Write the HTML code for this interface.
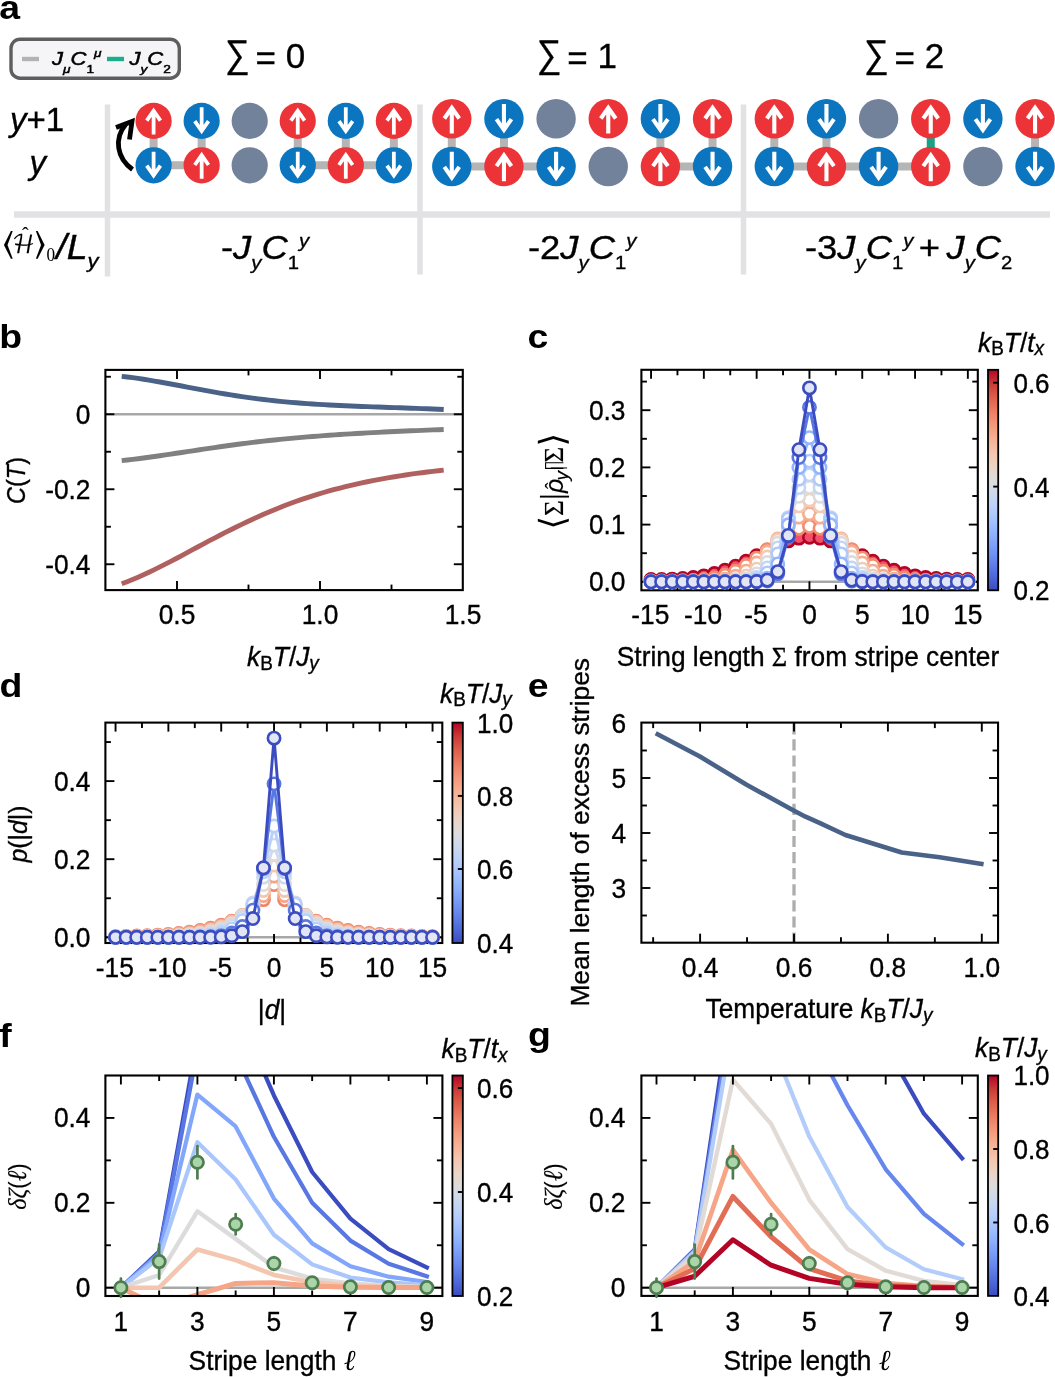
<!DOCTYPE html>
<html lang="en"><head><meta charset="utf-8"><title>Figure</title>
<style>
html,body{margin:0;padding:0;background:#fff;}
body{width:1055px;height:1377px;overflow:hidden;}
svg{display:block;font-family:"Liberation Sans", sans-serif;fill:#000;}
text{stroke:#000;stroke-width:0.35px;}
text.b{stroke:none;}
.b{font-weight:bold;}
.i{font-style:italic;}
</style></head><body>
<svg width="1055" height="1377" viewBox="0 0 1055 1377">
<rect width="1055" height="1377" fill="#fff"/>
<text transform="translate(-0.7 19.3) scale(1.1 1)" font-size="34" text-anchor="start" class="b">a</text>
<rect x="11" y="39.2" width="168.3" height="39" rx="9" ry="9" fill="#f5f5f7" stroke="#5e5e5e" stroke-width="3.4"/>
<line x1="22" y1="59" x2="39" y2="59" stroke="#b3b3b3" stroke-width="4.4" />
<line x1="107" y1="59" x2="124" y2="59" stroke="#1aae8f" stroke-width="4.4" />
<text transform="translate(52 65) scale(1.19 1)" font-size="18.5" text-anchor="start" style="stroke-width:0.5px"><tspan class="i">J</tspan><tspan font-style="italic" font-size="11.5" dy="7.5">μ</tspan><tspan class="i" dy="-7.5">C</tspan><tspan font-size="11.5" dy="7.5">1</tspan><tspan font-style="italic" font-size="11.5" dy="-15.5">μ</tspan></text>
<text transform="translate(129.5 65) scale(1.19 1)" font-size="18.5" text-anchor="start" style="stroke-width:0.5px"><tspan class="i">J</tspan><tspan font-style="italic" font-size="11.5" dy="7.5">y</tspan><tspan class="i" dy="-7.5">C</tspan><tspan font-size="11.5" dy="7.5">2</tspan></text>
<text transform="translate(225 67.2) scale(0.9 1)" font-size="38.5" text-anchor="start" >∑</text>
<text transform="translate(255.6 68)" font-size="35" text-anchor="start" ><tspan dy="2.2">=</tspan><tspan dy="-2.2"> 0</tspan></text>
<text transform="translate(536.75 67.2) scale(0.9 1)" font-size="38.5" text-anchor="start" >∑</text>
<text transform="translate(567.35 68)" font-size="35" text-anchor="start" ><tspan dy="2.2">=</tspan><tspan dy="-2.2"> 1</tspan></text>
<text transform="translate(864 67.2) scale(0.9 1)" font-size="38.5" text-anchor="start" >∑</text>
<text transform="translate(894.6 68)" font-size="35" text-anchor="start" ><tspan dy="2.2">=</tspan><tspan dy="-2.2"> 2</tspan></text>
<line x1="14" y1="214.4" x2="1050" y2="214.4" stroke="#e2e2e4" stroke-width="6.5" />
<line x1="107.5" y1="104.5" x2="107.5" y2="276.4" stroke="#e2e2e4" stroke-width="5.5" />
<line x1="420" y1="104.5" x2="420" y2="274.6" stroke="#e2e2e4" stroke-width="5.5" />
<line x1="743.5" y1="104.5" x2="743.5" y2="274.6" stroke="#e2e2e4" stroke-width="5.5" />
<text transform="translate(10 131)" font-size="33" text-anchor="start" ><tspan class="i">y</tspan>+1</text>
<text transform="translate(29.5 174)" font-size="33" text-anchor="start" ><tspan class="i">y</tspan></text>
<text transform="translate(1.4 253.4) scale(0.93 1)" font-size="25" text-anchor="start" style="stroke-width:0.05px"><tspan font-family='"DejaVu Math TeX Gyre", "DejaVu Serif", "DejaVu Sans", serif' font-size="33" dy="0.7">⟨</tspan><tspan font-family='"DejaVu Math TeX Gyre", "DejaVu Serif", "DejaVu Sans", serif' font-size="25" dy="-0.7" dx="-2.5">ℋ</tspan><tspan font-family='"DejaVu Math TeX Gyre", "DejaVu Serif", "DejaVu Sans", serif' font-size="33" dy="0.7" dx="-0.8">⟩</tspan><tspan font-family='"Liberation Serif", "DejaVu Serif", serif' font-size="18.5" dy="6.5" dx="-0.5">0</tspan></text>
<text transform="translate(25.4 241.5)" font-size="20" text-anchor="middle" font-family='"Liberation Serif", "DejaVu Serif", serif' style="stroke-width:0.1px">ˆ</text>
<text transform="translate(56.3 258.7) scale(1.07 1)" font-size="35" text-anchor="start" style="stroke-width:0.45px"><tspan class="i">/L</tspan><tspan font-style="italic" font-size="20.5" dy="9.5">y</tspan></text>
<text transform="translate(221 259) scale(1.07 1)" font-size="34" text-anchor="start" >-<tspan class="i">J</tspan><tspan font-style="italic" font-size="19" dy="10">y</tspan><tspan class="i" dy="-10">C</tspan><tspan font-size="19" dy="10">1</tspan><tspan font-style="italic" font-size="19" dy="-22.5">y</tspan></text>
<text transform="translate(528 259) scale(1.07 1)" font-size="34" text-anchor="start" >-2<tspan class="i">J</tspan><tspan font-style="italic" font-size="19" dy="10">y</tspan><tspan class="i" dy="-10">C</tspan><tspan font-size="19" dy="10">1</tspan><tspan font-style="italic" font-size="19" dy="-22.5">y</tspan></text>
<text transform="translate(805 259) scale(1.07 1)" font-size="34" text-anchor="start" >-3<tspan class="i">J</tspan><tspan font-style="italic" font-size="19" dy="10">y</tspan><tspan class="i" dy="-10">C</tspan><tspan font-size="19" dy="10">1</tspan><tspan font-style="italic" font-size="19" dy="-22.5">y</tspan><tspan dy="12.5" dx="5">+</tspan><tspan dx="6" class="i">J</tspan><tspan font-style="italic" font-size="19" dy="10">y</tspan><tspan class="i" dy="-10">C</tspan><tspan font-size="19" dy="10">2</tspan></text>
<line x1="153.6" y1="120.9" x2="153.6" y2="165.3" stroke="#b5b5b5" stroke-width="8" />
<line x1="201.65" y1="120.9" x2="201.65" y2="165.3" stroke="#b5b5b5" stroke-width="8" />
<line x1="297.75" y1="120.9" x2="297.75" y2="165.3" stroke="#b5b5b5" stroke-width="8" />
<line x1="345.8" y1="120.9" x2="345.8" y2="165.3" stroke="#b5b5b5" stroke-width="8" />
<line x1="393.85" y1="120.9" x2="393.85" y2="165.3" stroke="#b5b5b5" stroke-width="8" />
<line x1="153.6" y1="165.3" x2="201.65" y2="165.3" stroke="#b5b5b5" stroke-width="8" />
<line x1="297.75" y1="165.3" x2="345.8" y2="165.3" stroke="#b5b5b5" stroke-width="8" />
<line x1="345.8" y1="165.3" x2="393.85" y2="165.3" stroke="#b5b5b5" stroke-width="8" />
<circle cx="153.6" cy="120.9" r="18.1" fill="#ec3338"/>
<path d="M153.6 134.43V110.95M146.74 120.6L153.6 110.76L160.46 120.6" fill="none" stroke="#fff" stroke-width="3.78" stroke-linejoin="miter"/>
<circle cx="201.65" cy="120.9" r="18.1" fill="#0b75c0"/>
<path d="M201.65 107.37V130.85M194.79 121.2L201.65 131.04L208.51 121.2" fill="none" stroke="#fff" stroke-width="3.78" stroke-linejoin="miter"/>
<circle cx="249.7" cy="120.9" r="18.1" fill="#72829b"/>
<circle cx="297.75" cy="120.9" r="18.1" fill="#ec3338"/>
<path d="M297.75 134.43V110.95M290.89 120.6L297.75 110.76L304.61 120.6" fill="none" stroke="#fff" stroke-width="3.78" stroke-linejoin="miter"/>
<circle cx="345.8" cy="120.9" r="18.1" fill="#0b75c0"/>
<path d="M345.8 107.37V130.85M338.94 121.2L345.8 131.04L352.66 121.2" fill="none" stroke="#fff" stroke-width="3.78" stroke-linejoin="miter"/>
<circle cx="393.85" cy="120.9" r="18.1" fill="#ec3338"/>
<path d="M393.85 134.43V110.95M386.99 120.6L393.85 110.76L400.71 120.6" fill="none" stroke="#fff" stroke-width="3.78" stroke-linejoin="miter"/>
<circle cx="153.6" cy="165.3" r="18.1" fill="#0b75c0"/>
<path d="M153.6 151.77V175.25M146.74 165.6L153.6 175.44L160.46 165.6" fill="none" stroke="#fff" stroke-width="3.78" stroke-linejoin="miter"/>
<circle cx="201.65" cy="165.3" r="18.1" fill="#ec3338"/>
<path d="M201.65 178.83V155.35M194.79 165L201.65 155.16L208.51 165" fill="none" stroke="#fff" stroke-width="3.78" stroke-linejoin="miter"/>
<circle cx="249.7" cy="165.3" r="18.1" fill="#72829b"/>
<circle cx="297.75" cy="165.3" r="18.1" fill="#0b75c0"/>
<path d="M297.75 151.77V175.25M290.89 165.6L297.75 175.44L304.61 165.6" fill="none" stroke="#fff" stroke-width="3.78" stroke-linejoin="miter"/>
<circle cx="345.8" cy="165.3" r="18.1" fill="#ec3338"/>
<path d="M345.8 178.83V155.35M338.94 165L345.8 155.16L352.66 165" fill="none" stroke="#fff" stroke-width="3.78" stroke-linejoin="miter"/>
<circle cx="393.85" cy="165.3" r="18.1" fill="#0b75c0"/>
<path d="M393.85 151.77V175.25M386.99 165.6L393.85 175.44L400.71 165.6" fill="none" stroke="#fff" stroke-width="3.78" stroke-linejoin="miter"/>
<line x1="451.8" y1="118.8" x2="451.8" y2="166.5" stroke="#b5b5b5" stroke-width="8" />
<line x1="503.95" y1="118.8" x2="503.95" y2="166.5" stroke="#b5b5b5" stroke-width="8" />
<line x1="660.4" y1="118.8" x2="660.4" y2="166.5" stroke="#b5b5b5" stroke-width="8" />
<line x1="712.55" y1="118.8" x2="712.55" y2="166.5" stroke="#b5b5b5" stroke-width="8" />
<line x1="451.8" y1="166.5" x2="503.95" y2="166.5" stroke="#b5b5b5" stroke-width="8" />
<line x1="503.95" y1="166.5" x2="556.1" y2="166.5" stroke="#b5b5b5" stroke-width="8" />
<line x1="660.4" y1="166.5" x2="712.55" y2="166.5" stroke="#b5b5b5" stroke-width="8" />
<circle cx="451.8" cy="118.8" r="19.7" fill="#ec3338"/>
<path d="M451.8 133.52V107.98M444.33 118.48L451.8 107.76L459.27 118.48" fill="none" stroke="#fff" stroke-width="4.11" stroke-linejoin="miter"/>
<circle cx="503.95" cy="118.8" r="19.7" fill="#0b75c0"/>
<path d="M503.95 104.08V129.62M496.48 119.12L503.95 129.84L511.42 119.12" fill="none" stroke="#fff" stroke-width="4.11" stroke-linejoin="miter"/>
<circle cx="556.1" cy="118.8" r="19.7" fill="#72829b"/>
<circle cx="608.25" cy="118.8" r="19.7" fill="#ec3338"/>
<path d="M608.25 133.52V107.98M600.78 118.48L608.25 107.76L615.72 118.48" fill="none" stroke="#fff" stroke-width="4.11" stroke-linejoin="miter"/>
<circle cx="660.4" cy="118.8" r="19.7" fill="#0b75c0"/>
<path d="M660.4 104.08V129.62M652.93 119.12L660.4 129.84L667.87 119.12" fill="none" stroke="#fff" stroke-width="4.11" stroke-linejoin="miter"/>
<circle cx="712.55" cy="118.8" r="19.7" fill="#ec3338"/>
<path d="M712.55 133.52V107.98M705.08 118.48L712.55 107.76L720.02 118.48" fill="none" stroke="#fff" stroke-width="4.11" stroke-linejoin="miter"/>
<circle cx="451.8" cy="166.5" r="19.7" fill="#0b75c0"/>
<path d="M451.8 151.78V177.32M444.33 166.82L451.8 177.54L459.27 166.82" fill="none" stroke="#fff" stroke-width="4.11" stroke-linejoin="miter"/>
<circle cx="503.95" cy="166.5" r="19.7" fill="#ec3338"/>
<path d="M503.95 181.22V155.68M496.48 166.18L503.95 155.46L511.42 166.18" fill="none" stroke="#fff" stroke-width="4.11" stroke-linejoin="miter"/>
<circle cx="556.1" cy="166.5" r="19.7" fill="#0b75c0"/>
<path d="M556.1 151.78V177.32M548.63 166.82L556.1 177.54L563.57 166.82" fill="none" stroke="#fff" stroke-width="4.11" stroke-linejoin="miter"/>
<circle cx="608.25" cy="166.5" r="19.7" fill="#72829b"/>
<circle cx="660.4" cy="166.5" r="19.7" fill="#ec3338"/>
<path d="M660.4 181.22V155.68M652.93 166.18L660.4 155.46L667.87 166.18" fill="none" stroke="#fff" stroke-width="4.11" stroke-linejoin="miter"/>
<circle cx="712.55" cy="166.5" r="19.7" fill="#0b75c0"/>
<path d="M712.55 151.78V177.32M705.08 166.82L712.55 177.54L720.02 166.82" fill="none" stroke="#fff" stroke-width="4.11" stroke-linejoin="miter"/>
<line x1="774.3" y1="118.8" x2="774.3" y2="166.5" stroke="#b5b5b5" stroke-width="8" />
<line x1="826.45" y1="118.8" x2="826.45" y2="166.5" stroke="#b5b5b5" stroke-width="8" />
<line x1="930.75" y1="118.8" x2="930.75" y2="166.5" stroke="#17a385" stroke-width="8" />
<line x1="1035.05" y1="118.8" x2="1035.05" y2="166.5" stroke="#b5b5b5" stroke-width="8" />
<line x1="774.3" y1="166.5" x2="826.45" y2="166.5" stroke="#b5b5b5" stroke-width="8" />
<line x1="826.45" y1="166.5" x2="878.6" y2="166.5" stroke="#b5b5b5" stroke-width="8" />
<line x1="878.6" y1="166.5" x2="930.75" y2="166.5" stroke="#b5b5b5" stroke-width="8" />
<circle cx="774.3" cy="118.8" r="19.7" fill="#ec3338"/>
<path d="M774.3 133.52V107.98M766.83 118.48L774.3 107.76L781.77 118.48" fill="none" stroke="#fff" stroke-width="4.11" stroke-linejoin="miter"/>
<circle cx="826.45" cy="118.8" r="19.7" fill="#0b75c0"/>
<path d="M826.45 104.08V129.62M818.98 119.12L826.45 129.84L833.92 119.12" fill="none" stroke="#fff" stroke-width="4.11" stroke-linejoin="miter"/>
<circle cx="878.6" cy="118.8" r="19.7" fill="#72829b"/>
<circle cx="930.75" cy="118.8" r="19.7" fill="#ec3338"/>
<path d="M930.75 133.52V107.98M923.28 118.48L930.75 107.76L938.22 118.48" fill="none" stroke="#fff" stroke-width="4.11" stroke-linejoin="miter"/>
<circle cx="982.9" cy="118.8" r="19.7" fill="#0b75c0"/>
<path d="M982.9 104.08V129.62M975.43 119.12L982.9 129.84L990.37 119.12" fill="none" stroke="#fff" stroke-width="4.11" stroke-linejoin="miter"/>
<circle cx="1035.05" cy="118.8" r="19.7" fill="#ec3338"/>
<path d="M1035.05 133.52V107.98M1027.58 118.48L1035.05 107.76L1042.52 118.48" fill="none" stroke="#fff" stroke-width="4.11" stroke-linejoin="miter"/>
<circle cx="774.3" cy="166.5" r="19.7" fill="#0b75c0"/>
<path d="M774.3 151.78V177.32M766.83 166.82L774.3 177.54L781.77 166.82" fill="none" stroke="#fff" stroke-width="4.11" stroke-linejoin="miter"/>
<circle cx="826.45" cy="166.5" r="19.7" fill="#ec3338"/>
<path d="M826.45 181.22V155.68M818.98 166.18L826.45 155.46L833.92 166.18" fill="none" stroke="#fff" stroke-width="4.11" stroke-linejoin="miter"/>
<circle cx="878.6" cy="166.5" r="19.7" fill="#0b75c0"/>
<path d="M878.6 151.78V177.32M871.13 166.82L878.6 177.54L886.07 166.82" fill="none" stroke="#fff" stroke-width="4.11" stroke-linejoin="miter"/>
<circle cx="930.75" cy="166.5" r="19.7" fill="#ec3338"/>
<path d="M930.75 181.22V155.68M923.28 166.18L930.75 155.46L938.22 166.18" fill="none" stroke="#fff" stroke-width="4.11" stroke-linejoin="miter"/>
<circle cx="982.9" cy="166.5" r="19.7" fill="#72829b"/>
<circle cx="1035.05" cy="166.5" r="19.7" fill="#0b75c0"/>
<path d="M1035.05 151.78V177.32M1027.58 166.82L1035.05 177.54L1042.52 166.82" fill="none" stroke="#fff" stroke-width="4.11" stroke-linejoin="miter"/>
<path d="M132.5 169.5C117 158 113.5 139 126 124" fill="none" stroke="#000" stroke-width="4.8"/>
<path d="M116 127.5L132 121.5L129.5 139.5" fill="none" stroke="#000" stroke-width="4.8" stroke-linejoin="miter"/>
<text transform="translate(-0.7 347.8) scale(1.1 1)" font-size="34" text-anchor="start" class="b">b</text>
<line x1="105.4" y1="414.25" x2="462.8" y2="414.25" stroke="#a8a8a8" stroke-width="2.4" />
<polyline points="121.7,583.83 127.16,581.75 132.62,579.54 138.07,577.21 143.53,574.77 148.99,572.23 154.45,569.61 159.9,566.91 165.36,564.14 170.82,561.32 176.28,558.46 181.73,555.56 187.19,552.64 192.65,549.71 198.11,546.77 203.56,543.85 209.02,540.94 214.48,538.07 219.94,535.23 225.39,532.44 230.85,529.69 236.31,526.98 241.77,524.33 247.23,521.73 252.68,519.19 258.14,516.71 263.6,514.29 269.06,511.94 274.51,509.66 279.97,507.46 285.43,505.33 290.89,503.27 296.34,501.3 301.8,499.4 307.26,497.57 312.72,495.81 318.17,494.12 323.63,492.5 329.09,490.95 334.55,489.46 340.01,488.03 345.46,486.66 350.92,485.34 356.38,484.09 361.84,482.88 367.29,481.73 372.75,480.64 378.21,479.58 383.67,478.58 389.12,477.62 394.58,476.71 400.04,475.83 405.5,475 410.95,474.2 416.41,473.44 421.87,472.71 427.33,472.01 432.78,471.34 438.24,470.7 443.7,470.09" fill="none" stroke="#b0615f" stroke-width="4.9" stroke-linejoin="round" stroke-linecap="butt"/>
<polyline points="121.7,460.66 127.16,460.05 132.62,459.4 138.07,458.72 143.53,458 148.99,457.26 154.45,456.5 159.9,455.71 165.36,454.92 170.82,454.1 176.28,453.29 181.73,452.46 187.19,451.64 192.65,450.82 198.11,450 203.56,449.18 209.02,448.38 214.48,447.58 219.94,446.79 225.39,446.02 230.85,445.26 236.31,444.52 241.77,443.8 247.23,443.1 252.68,442.43 258.14,441.78 263.6,441.15 269.06,440.55 274.51,439.97 279.97,439.42 285.43,438.88 290.89,438.36 296.34,437.87 301.8,437.39 307.26,436.93 312.72,436.49 318.17,436.07 323.63,435.66 329.09,435.27 334.55,434.89 340.01,434.53 345.46,434.18 350.92,433.85 356.38,433.52 361.84,433.21 367.29,432.91 372.75,432.62 378.21,432.34 383.67,432.07 389.12,431.81 394.58,431.55 400.04,431.3 405.5,431.06 410.95,430.82 416.41,430.59 421.87,430.36 427.33,430.13 432.78,429.91 438.24,429.69 443.7,429.47" fill="none" stroke="#808080" stroke-width="4.9" stroke-linejoin="round" stroke-linecap="butt"/>
<polyline points="121.7,376.31 127.16,376.96 132.62,377.67 138.07,378.44 143.53,379.27 148.99,380.15 154.45,381.06 159.9,382.01 165.36,382.99 170.82,383.99 176.28,385 181.73,386.02 187.19,387.05 192.65,388.07 198.11,389.09 203.56,390.1 209.02,391.1 214.48,392.08 219.94,393.04 225.39,393.98 230.85,394.89 236.31,395.76 241.77,396.6 247.23,397.41 252.68,398.16 258.14,398.88 263.6,399.55 269.06,400.18 274.51,400.78 279.97,401.33 285.43,401.86 290.89,402.34 296.34,402.8 301.8,403.23 307.26,403.63 312.72,404 318.17,404.35 323.63,404.67 329.09,404.98 334.55,405.26 340.01,405.53 345.46,405.78 350.92,406.02 356.38,406.24 361.84,406.46 367.29,406.66 372.75,406.86 378.21,407.05 383.67,407.24 389.12,407.43 394.58,407.61 400.04,407.8 405.5,407.99 410.95,408.19 416.41,408.39 421.87,408.6 427.33,408.82 432.78,409.05 438.24,409.3 443.7,409.56" fill="none" stroke="#4a6288" stroke-width="4.9" stroke-linejoin="round" stroke-linecap="butt"/>
<rect x="105.4" y="369.9" width="357.4" height="220.2" fill="none" stroke="#000" stroke-width="2.1"/>
<line x1="177" y1="590.1" x2="177" y2="581.1" stroke="#000" stroke-width="1.9" />
<line x1="177" y1="369.9" x2="177" y2="378.9" stroke="#000" stroke-width="1.9" />
<line x1="320" y1="590.1" x2="320" y2="581.1" stroke="#000" stroke-width="1.9" />
<line x1="320" y1="369.9" x2="320" y2="378.9" stroke="#000" stroke-width="1.9" />
<line x1="248.5" y1="590.1" x2="248.5" y2="584.6" stroke="#000" stroke-width="1.9" />
<line x1="248.5" y1="369.9" x2="248.5" y2="375.4" stroke="#000" stroke-width="1.9" />
<line x1="391.5" y1="590.1" x2="391.5" y2="584.6" stroke="#000" stroke-width="1.9" />
<line x1="391.5" y1="369.9" x2="391.5" y2="375.4" stroke="#000" stroke-width="1.9" />
<line x1="105.4" y1="414.25" x2="114.4" y2="414.25" stroke="#000" stroke-width="1.9" />
<line x1="462.8" y1="414.25" x2="453.8" y2="414.25" stroke="#000" stroke-width="1.9" />
<line x1="105.4" y1="489.25" x2="114.4" y2="489.25" stroke="#000" stroke-width="1.9" />
<line x1="462.8" y1="489.25" x2="453.8" y2="489.25" stroke="#000" stroke-width="1.9" />
<line x1="105.4" y1="564.25" x2="114.4" y2="564.25" stroke="#000" stroke-width="1.9" />
<line x1="462.8" y1="564.25" x2="453.8" y2="564.25" stroke="#000" stroke-width="1.9" />
<line x1="105.4" y1="376.75" x2="110.9" y2="376.75" stroke="#000" stroke-width="1.9" />
<line x1="462.8" y1="376.75" x2="457.3" y2="376.75" stroke="#000" stroke-width="1.9" />
<line x1="105.4" y1="451.75" x2="110.9" y2="451.75" stroke="#000" stroke-width="1.9" />
<line x1="462.8" y1="451.75" x2="457.3" y2="451.75" stroke="#000" stroke-width="1.9" />
<line x1="105.4" y1="526.75" x2="110.9" y2="526.75" stroke="#000" stroke-width="1.9" />
<line x1="462.8" y1="526.75" x2="457.3" y2="526.75" stroke="#000" stroke-width="1.9" />
<text transform="translate(177 624.2) scale(0.975 1)" font-size="27" text-anchor="middle" >0.5</text>
<text transform="translate(320 624.2) scale(0.975 1)" font-size="27" text-anchor="middle" >1.0</text>
<text transform="translate(463 624.2) scale(0.975 1)" font-size="27" text-anchor="middle" >1.5</text>
<text transform="translate(90.5 423.65) scale(0.975 1)" font-size="27" text-anchor="end" >0</text>
<text transform="translate(90.5 498.65) scale(0.975 1)" font-size="27" text-anchor="end" >-0.2</text>
<text transform="translate(90.5 573.65) scale(0.975 1)" font-size="27" text-anchor="end" >-0.4</text>
<text transform="translate(25 480.5) rotate(-90) scale(0.92 1)" font-size="25.5" text-anchor="middle" ><tspan class="i">C</tspan>(<tspan class="i">T</tspan>)</text>
<text transform="translate(247 666.4) scale(0.975 1)" font-size="27" text-anchor="start" ><tspan font-style="italic">k</tspan><tspan font-size="19.44" dy="3.78">B</tspan><tspan font-style="italic" dy="-3.78">T</tspan>/<tspan font-style="italic">J</tspan><tspan font-style="italic" font-size="19.44" dy="3.78">y</tspan></text>
<text transform="translate(527.6 348.2) scale(1.1 1)" font-size="34" text-anchor="start" class="b">c</text>
<line x1="641.4" y1="581.8" x2="977.8" y2="581.8" stroke="#a8a8a8" stroke-width="2.4" />
<line x1="651.05" y1="590.3" x2="651.05" y2="581.3" stroke="#000" stroke-width="1.9" />
<line x1="651.05" y1="369.8" x2="651.05" y2="378.8" stroke="#000" stroke-width="1.9" />
<line x1="703.85" y1="590.3" x2="703.85" y2="581.3" stroke="#000" stroke-width="1.9" />
<line x1="703.85" y1="369.8" x2="703.85" y2="378.8" stroke="#000" stroke-width="1.9" />
<line x1="756.65" y1="590.3" x2="756.65" y2="581.3" stroke="#000" stroke-width="1.9" />
<line x1="756.65" y1="369.8" x2="756.65" y2="378.8" stroke="#000" stroke-width="1.9" />
<line x1="809.45" y1="590.3" x2="809.45" y2="581.3" stroke="#000" stroke-width="1.9" />
<line x1="809.45" y1="369.8" x2="809.45" y2="378.8" stroke="#000" stroke-width="1.9" />
<line x1="862.25" y1="590.3" x2="862.25" y2="581.3" stroke="#000" stroke-width="1.9" />
<line x1="862.25" y1="369.8" x2="862.25" y2="378.8" stroke="#000" stroke-width="1.9" />
<line x1="915.05" y1="590.3" x2="915.05" y2="581.3" stroke="#000" stroke-width="1.9" />
<line x1="915.05" y1="369.8" x2="915.05" y2="378.8" stroke="#000" stroke-width="1.9" />
<line x1="967.85" y1="590.3" x2="967.85" y2="581.3" stroke="#000" stroke-width="1.9" />
<line x1="967.85" y1="369.8" x2="967.85" y2="378.8" stroke="#000" stroke-width="1.9" />
<line x1="677.45" y1="590.3" x2="677.45" y2="584.8" stroke="#000" stroke-width="1.9" />
<line x1="677.45" y1="369.8" x2="677.45" y2="375.3" stroke="#000" stroke-width="1.9" />
<line x1="730.25" y1="590.3" x2="730.25" y2="584.8" stroke="#000" stroke-width="1.9" />
<line x1="730.25" y1="369.8" x2="730.25" y2="375.3" stroke="#000" stroke-width="1.9" />
<line x1="783.05" y1="590.3" x2="783.05" y2="584.8" stroke="#000" stroke-width="1.9" />
<line x1="783.05" y1="369.8" x2="783.05" y2="375.3" stroke="#000" stroke-width="1.9" />
<line x1="835.85" y1="590.3" x2="835.85" y2="584.8" stroke="#000" stroke-width="1.9" />
<line x1="835.85" y1="369.8" x2="835.85" y2="375.3" stroke="#000" stroke-width="1.9" />
<line x1="888.65" y1="590.3" x2="888.65" y2="584.8" stroke="#000" stroke-width="1.9" />
<line x1="888.65" y1="369.8" x2="888.65" y2="375.3" stroke="#000" stroke-width="1.9" />
<line x1="941.45" y1="590.3" x2="941.45" y2="584.8" stroke="#000" stroke-width="1.9" />
<line x1="941.45" y1="369.8" x2="941.45" y2="375.3" stroke="#000" stroke-width="1.9" />
<line x1="641.4" y1="581.8" x2="650.4" y2="581.8" stroke="#000" stroke-width="1.9" />
<line x1="977.8" y1="581.8" x2="968.8" y2="581.8" stroke="#000" stroke-width="1.9" />
<line x1="641.4" y1="524.6" x2="650.4" y2="524.6" stroke="#000" stroke-width="1.9" />
<line x1="977.8" y1="524.6" x2="968.8" y2="524.6" stroke="#000" stroke-width="1.9" />
<line x1="641.4" y1="467.4" x2="650.4" y2="467.4" stroke="#000" stroke-width="1.9" />
<line x1="977.8" y1="467.4" x2="968.8" y2="467.4" stroke="#000" stroke-width="1.9" />
<line x1="641.4" y1="410.2" x2="650.4" y2="410.2" stroke="#000" stroke-width="1.9" />
<line x1="977.8" y1="410.2" x2="968.8" y2="410.2" stroke="#000" stroke-width="1.9" />
<line x1="641.4" y1="553.2" x2="646.9" y2="553.2" stroke="#000" stroke-width="1.9" />
<line x1="977.8" y1="553.2" x2="972.3" y2="553.2" stroke="#000" stroke-width="1.9" />
<line x1="641.4" y1="496" x2="646.9" y2="496" stroke="#000" stroke-width="1.9" />
<line x1="977.8" y1="496" x2="972.3" y2="496" stroke="#000" stroke-width="1.9" />
<line x1="641.4" y1="438.8" x2="646.9" y2="438.8" stroke="#000" stroke-width="1.9" />
<line x1="977.8" y1="438.8" x2="972.3" y2="438.8" stroke="#000" stroke-width="1.9" />
<line x1="641.4" y1="381.6" x2="646.9" y2="381.6" stroke="#000" stroke-width="1.9" />
<line x1="977.8" y1="381.6" x2="972.3" y2="381.6" stroke="#000" stroke-width="1.9" />
<rect x="641.4" y="369.8" width="336.4" height="220.5" fill="none" stroke="#000" stroke-width="2.1"/>
<polyline points="651.05,579.5 661.61,579.42 672.17,579.14 682.73,578.55 693.29,577.51 703.85,575.88 714.41,573.5 724.97,570.26 735.53,566.15 746.09,561.25 756.65,555.82 767.21,550.26 777.77,545.09 788.33,540.88 798.89,538.13 809.45,537.18 820.01,538.13 830.57,540.88 841.13,545.09 851.69,550.26 862.25,555.82 872.81,561.25 883.37,566.15 893.93,570.26 904.49,573.5 915.05,575.88 925.61,577.51 936.17,578.55 946.73,579.14 957.29,579.42 967.85,579.5" fill="none" stroke="#b40426" stroke-width="2.9" stroke-linejoin="round" stroke-linecap="butt"/>
<g fill="#f2506b" stroke="#b40426" stroke-width="2.6"><circle cx="651.05" cy="579.5" r="6.15"/><circle cx="661.61" cy="579.42" r="6.15"/><circle cx="672.17" cy="579.14" r="6.15"/><circle cx="682.73" cy="578.55" r="6.15"/><circle cx="693.29" cy="577.51" r="6.15"/><circle cx="703.85" cy="575.88" r="6.15"/><circle cx="714.41" cy="573.5" r="6.15"/><circle cx="724.97" cy="570.26" r="6.15"/><circle cx="735.53" cy="566.15" r="6.15"/><circle cx="746.09" cy="561.25" r="6.15"/><circle cx="756.65" cy="555.82" r="6.15"/><circle cx="767.21" cy="550.26" r="6.15"/><circle cx="777.77" cy="545.09" r="6.15"/><circle cx="788.33" cy="540.88" r="6.15"/><circle cx="798.89" cy="538.13" r="6.15"/><circle cx="809.45" cy="537.18" r="6.15"/><circle cx="820.01" cy="538.13" r="6.15"/><circle cx="830.57" cy="540.88" r="6.15"/><circle cx="841.13" cy="545.09" r="6.15"/><circle cx="851.69" cy="550.26" r="6.15"/><circle cx="862.25" cy="555.82" r="6.15"/><circle cx="872.81" cy="561.25" r="6.15"/><circle cx="883.37" cy="566.15" r="6.15"/><circle cx="893.93" cy="570.26" r="6.15"/><circle cx="904.49" cy="573.5" r="6.15"/><circle cx="915.05" cy="575.88" r="6.15"/><circle cx="925.61" cy="577.51" r="6.15"/><circle cx="936.17" cy="578.55" r="6.15"/><circle cx="946.73" cy="579.14" r="6.15"/><circle cx="957.29" cy="579.42" r="6.15"/><circle cx="967.85" cy="579.5" r="6.15"/></g>
<polyline points="651.05,580.94 661.61,580.98 672.17,580.96 682.73,580.81 693.29,580.41 703.85,579.56 714.41,577.98 724.97,575.32 735.53,571.24 746.09,565.49 756.65,558.14 767.21,549.67 777.77,541 788.33,533.4 798.89,528.18 809.45,526.32 820.01,528.18 830.57,533.4 841.13,541 851.69,549.67 862.25,558.14 872.81,565.49 883.37,571.24 893.93,575.32 904.49,577.98 915.05,579.56 925.61,580.41 936.17,580.81 946.73,580.96 957.29,580.98 967.85,580.94" fill="none" stroke="#f18d6f" stroke-width="2.9" stroke-linejoin="round" stroke-linecap="butt"/>
<g fill="#ffffff" stroke="#f18d6f" stroke-width="2.6"><circle cx="651.05" cy="580.94" r="6.15"/><circle cx="661.61" cy="580.98" r="6.15"/><circle cx="672.17" cy="580.96" r="6.15"/><circle cx="682.73" cy="580.81" r="6.15"/><circle cx="693.29" cy="580.41" r="6.15"/><circle cx="703.85" cy="579.56" r="6.15"/><circle cx="714.41" cy="577.98" r="6.15"/><circle cx="724.97" cy="575.32" r="6.15"/><circle cx="735.53" cy="571.24" r="6.15"/><circle cx="746.09" cy="565.49" r="6.15"/><circle cx="756.65" cy="558.14" r="6.15"/><circle cx="767.21" cy="549.67" r="6.15"/><circle cx="777.77" cy="541" r="6.15"/><circle cx="788.33" cy="533.4" r="6.15"/><circle cx="798.89" cy="528.18" r="6.15"/><circle cx="809.45" cy="526.32" r="6.15"/><circle cx="820.01" cy="528.18" r="6.15"/><circle cx="830.57" cy="533.4" r="6.15"/><circle cx="841.13" cy="541" r="6.15"/><circle cx="851.69" cy="549.67" r="6.15"/><circle cx="862.25" cy="558.14" r="6.15"/><circle cx="872.81" cy="565.49" r="6.15"/><circle cx="883.37" cy="571.24" r="6.15"/><circle cx="893.93" cy="575.32" r="6.15"/><circle cx="904.49" cy="577.98" r="6.15"/><circle cx="915.05" cy="579.56" r="6.15"/><circle cx="925.61" cy="580.41" r="6.15"/><circle cx="936.17" cy="580.81" r="6.15"/><circle cx="946.73" cy="580.96" r="6.15"/><circle cx="957.29" cy="580.98" r="6.15"/><circle cx="967.85" cy="580.94" r="6.15"/></g>
<polyline points="651.05,581.43 661.61,581.46 672.17,581.49 682.73,581.5 693.29,581.44 703.85,581.21 714.41,580.6 724.97,579.17 735.53,576.29 746.09,571.13 756.65,563.05 767.21,552 777.77,539.04 788.33,526.44 798.89,517.16 809.45,513.73 820.01,517.16 830.57,526.44 841.13,539.04 851.69,552 862.25,563.05 872.81,571.13 883.37,576.29 893.93,579.17 904.49,580.6 915.05,581.21 925.61,581.44 936.17,581.5 946.73,581.49 957.29,581.46 967.85,581.43" fill="none" stroke="#f7ac8e" stroke-width="2.9" stroke-linejoin="round" stroke-linecap="butt"/>
<g fill="#ffffff" stroke="#f7ac8e" stroke-width="2.6"><circle cx="651.05" cy="581.43" r="6.15"/><circle cx="661.61" cy="581.46" r="6.15"/><circle cx="672.17" cy="581.49" r="6.15"/><circle cx="682.73" cy="581.5" r="6.15"/><circle cx="693.29" cy="581.44" r="6.15"/><circle cx="703.85" cy="581.21" r="6.15"/><circle cx="714.41" cy="580.6" r="6.15"/><circle cx="724.97" cy="579.17" r="6.15"/><circle cx="735.53" cy="576.29" r="6.15"/><circle cx="746.09" cy="571.13" r="6.15"/><circle cx="756.65" cy="563.05" r="6.15"/><circle cx="767.21" cy="552" r="6.15"/><circle cx="777.77" cy="539.04" r="6.15"/><circle cx="788.33" cy="526.44" r="6.15"/><circle cx="798.89" cy="517.16" r="6.15"/><circle cx="809.45" cy="513.73" r="6.15"/><circle cx="820.01" cy="517.16" r="6.15"/><circle cx="830.57" cy="526.44" r="6.15"/><circle cx="841.13" cy="539.04" r="6.15"/><circle cx="851.69" cy="552" r="6.15"/><circle cx="862.25" cy="563.05" r="6.15"/><circle cx="872.81" cy="571.13" r="6.15"/><circle cx="883.37" cy="576.29" r="6.15"/><circle cx="893.93" cy="579.17" r="6.15"/><circle cx="904.49" cy="580.6" r="6.15"/><circle cx="915.05" cy="581.21" r="6.15"/><circle cx="925.61" cy="581.44" r="6.15"/><circle cx="936.17" cy="581.5" r="6.15"/><circle cx="946.73" cy="581.49" r="6.15"/><circle cx="957.29" cy="581.46" r="6.15"/><circle cx="967.85" cy="581.43" r="6.15"/></g>
<polyline points="651.05,581.62 661.61,581.64 672.17,581.66 682.73,581.67 693.29,581.68 703.85,581.66 714.41,581.52 724.97,581.04 735.53,579.64 746.09,576.2 756.65,569.13 767.21,557.02 777.77,540.02 788.33,521.12 798.89,505.89 809.45,500 820.01,505.89 830.57,521.12 841.13,540.02 851.69,557.02 862.25,569.13 872.81,576.2 883.37,579.64 893.93,581.04 904.49,581.52 915.05,581.66 925.61,581.68 936.17,581.67 946.73,581.66 957.29,581.64 967.85,581.62" fill="none" stroke="#f2cbb7" stroke-width="2.9" stroke-linejoin="round" stroke-linecap="butt"/>
<g fill="#ffffff" stroke="#f2cbb7" stroke-width="2.6"><circle cx="651.05" cy="581.62" r="6.15"/><circle cx="661.61" cy="581.64" r="6.15"/><circle cx="672.17" cy="581.66" r="6.15"/><circle cx="682.73" cy="581.67" r="6.15"/><circle cx="693.29" cy="581.68" r="6.15"/><circle cx="703.85" cy="581.66" r="6.15"/><circle cx="714.41" cy="581.52" r="6.15"/><circle cx="724.97" cy="581.04" r="6.15"/><circle cx="735.53" cy="579.64" r="6.15"/><circle cx="746.09" cy="576.2" r="6.15"/><circle cx="756.65" cy="569.13" r="6.15"/><circle cx="767.21" cy="557.02" r="6.15"/><circle cx="777.77" cy="540.02" r="6.15"/><circle cx="788.33" cy="521.12" r="6.15"/><circle cx="798.89" cy="505.89" r="6.15"/><circle cx="809.45" cy="500" r="6.15"/><circle cx="820.01" cy="505.89" r="6.15"/><circle cx="830.57" cy="521.12" r="6.15"/><circle cx="841.13" cy="540.02" r="6.15"/><circle cx="851.69" cy="557.02" r="6.15"/><circle cx="862.25" cy="569.13" r="6.15"/><circle cx="872.81" cy="576.2" r="6.15"/><circle cx="883.37" cy="579.64" r="6.15"/><circle cx="893.93" cy="581.04" r="6.15"/><circle cx="904.49" cy="581.52" r="6.15"/><circle cx="915.05" cy="581.66" r="6.15"/><circle cx="925.61" cy="581.68" r="6.15"/><circle cx="936.17" cy="581.67" r="6.15"/><circle cx="946.73" cy="581.66" r="6.15"/><circle cx="957.29" cy="581.64" r="6.15"/><circle cx="967.85" cy="581.62" r="6.15"/></g>
<polyline points="651.05,581.7 661.61,581.71 672.17,581.72 682.73,581.73 693.29,581.74 703.85,581.74 714.41,581.72 724.97,581.6 735.53,581.05 746.09,579.14 756.65,573.93 767.21,562.56 777.77,543.23 788.33,518.39 798.89,496.35 809.45,487.42 820.01,496.35 830.57,518.39 841.13,543.23 851.69,562.56 862.25,573.93 872.81,579.14 883.37,581.05 893.93,581.6 904.49,581.72 915.05,581.74 925.61,581.74 936.17,581.73 946.73,581.72 957.29,581.71 967.85,581.7" fill="none" stroke="#dddcdc" stroke-width="2.9" stroke-linejoin="round" stroke-linecap="butt"/>
<g fill="#ffffff" stroke="#dddcdc" stroke-width="2.6"><circle cx="651.05" cy="581.7" r="6.15"/><circle cx="661.61" cy="581.71" r="6.15"/><circle cx="672.17" cy="581.72" r="6.15"/><circle cx="682.73" cy="581.73" r="6.15"/><circle cx="693.29" cy="581.74" r="6.15"/><circle cx="703.85" cy="581.74" r="6.15"/><circle cx="714.41" cy="581.72" r="6.15"/><circle cx="724.97" cy="581.6" r="6.15"/><circle cx="735.53" cy="581.05" r="6.15"/><circle cx="746.09" cy="579.14" r="6.15"/><circle cx="756.65" cy="573.93" r="6.15"/><circle cx="767.21" cy="562.56" r="6.15"/><circle cx="777.77" cy="543.23" r="6.15"/><circle cx="788.33" cy="518.39" r="6.15"/><circle cx="798.89" cy="496.35" r="6.15"/><circle cx="809.45" cy="487.42" r="6.15"/><circle cx="820.01" cy="496.35" r="6.15"/><circle cx="830.57" cy="518.39" r="6.15"/><circle cx="841.13" cy="543.23" r="6.15"/><circle cx="851.69" cy="562.56" r="6.15"/><circle cx="862.25" cy="573.93" r="6.15"/><circle cx="872.81" cy="579.14" r="6.15"/><circle cx="883.37" cy="581.05" r="6.15"/><circle cx="893.93" cy="581.6" r="6.15"/><circle cx="904.49" cy="581.72" r="6.15"/><circle cx="915.05" cy="581.74" r="6.15"/><circle cx="925.61" cy="581.74" r="6.15"/><circle cx="936.17" cy="581.73" r="6.15"/><circle cx="946.73" cy="581.72" r="6.15"/><circle cx="957.29" cy="581.71" r="6.15"/><circle cx="967.85" cy="581.7" r="6.15"/></g>
<polyline points="651.05,581.74 661.61,581.75 672.17,581.75 682.73,581.76 693.29,581.76 703.85,581.77 714.41,581.77 724.97,581.75 735.53,581.58 746.09,580.71 756.65,577.4 767.21,567.94 777.77,547.92 788.33,517.63 798.89,487.66 809.45,474.84 820.01,487.66 830.57,517.63 841.13,547.92 851.69,567.94 862.25,577.4 872.81,580.71 883.37,581.58 893.93,581.75 904.49,581.77 915.05,581.77 925.61,581.76 936.17,581.76 946.73,581.75 957.29,581.75 967.85,581.74" fill="none" stroke="#c6d6f1" stroke-width="2.9" stroke-linejoin="round" stroke-linecap="butt"/>
<g fill="#ffffff" stroke="#c6d6f1" stroke-width="2.6"><circle cx="651.05" cy="581.74" r="6.15"/><circle cx="661.61" cy="581.75" r="6.15"/><circle cx="672.17" cy="581.75" r="6.15"/><circle cx="682.73" cy="581.76" r="6.15"/><circle cx="693.29" cy="581.76" r="6.15"/><circle cx="703.85" cy="581.77" r="6.15"/><circle cx="714.41" cy="581.77" r="6.15"/><circle cx="724.97" cy="581.75" r="6.15"/><circle cx="735.53" cy="581.58" r="6.15"/><circle cx="746.09" cy="580.71" r="6.15"/><circle cx="756.65" cy="577.4" r="6.15"/><circle cx="767.21" cy="567.94" r="6.15"/><circle cx="777.77" cy="547.92" r="6.15"/><circle cx="788.33" cy="517.63" r="6.15"/><circle cx="798.89" cy="487.66" r="6.15"/><circle cx="809.45" cy="474.84" r="6.15"/><circle cx="820.01" cy="487.66" r="6.15"/><circle cx="830.57" cy="517.63" r="6.15"/><circle cx="841.13" cy="547.92" r="6.15"/><circle cx="851.69" cy="567.94" r="6.15"/><circle cx="862.25" cy="577.4" r="6.15"/><circle cx="872.81" cy="580.71" r="6.15"/><circle cx="883.37" cy="581.58" r="6.15"/><circle cx="893.93" cy="581.75" r="6.15"/><circle cx="904.49" cy="581.77" r="6.15"/><circle cx="915.05" cy="581.77" r="6.15"/><circle cx="925.61" cy="581.76" r="6.15"/><circle cx="936.17" cy="581.76" r="6.15"/><circle cx="946.73" cy="581.75" r="6.15"/><circle cx="957.29" cy="581.75" r="6.15"/><circle cx="967.85" cy="581.74" r="6.15"/></g>
<polyline points="651.05,581.76 661.61,581.77 672.17,581.77 682.73,581.77 693.29,581.78 703.85,581.78 714.41,581.78 724.97,581.78 735.53,581.75 746.09,581.44 756.65,579.72 767.21,572.85 777.77,553.87 788.33,518.83 798.89,479.22 809.45,461.11 820.01,479.22 830.57,518.83 841.13,553.87 851.69,572.85 862.25,579.72 872.81,581.44 883.37,581.75 893.93,581.78 904.49,581.78 915.05,581.78 925.61,581.78 936.17,581.77 946.73,581.77 957.29,581.77 967.85,581.76" fill="none" stroke="#adc9fd" stroke-width="2.9" stroke-linejoin="round" stroke-linecap="butt"/>
<g fill="#ffffff" stroke="#adc9fd" stroke-width="2.6"><circle cx="651.05" cy="581.76" r="6.15"/><circle cx="661.61" cy="581.77" r="6.15"/><circle cx="672.17" cy="581.77" r="6.15"/><circle cx="682.73" cy="581.77" r="6.15"/><circle cx="693.29" cy="581.78" r="6.15"/><circle cx="703.85" cy="581.78" r="6.15"/><circle cx="714.41" cy="581.78" r="6.15"/><circle cx="724.97" cy="581.78" r="6.15"/><circle cx="735.53" cy="581.75" r="6.15"/><circle cx="746.09" cy="581.44" r="6.15"/><circle cx="756.65" cy="579.72" r="6.15"/><circle cx="767.21" cy="572.85" r="6.15"/><circle cx="777.77" cy="553.87" r="6.15"/><circle cx="788.33" cy="518.83" r="6.15"/><circle cx="798.89" cy="479.22" r="6.15"/><circle cx="809.45" cy="461.11" r="6.15"/><circle cx="820.01" cy="479.22" r="6.15"/><circle cx="830.57" cy="518.83" r="6.15"/><circle cx="841.13" cy="553.87" r="6.15"/><circle cx="851.69" cy="572.85" r="6.15"/><circle cx="862.25" cy="579.72" r="6.15"/><circle cx="872.81" cy="581.44" r="6.15"/><circle cx="883.37" cy="581.75" r="6.15"/><circle cx="893.93" cy="581.78" r="6.15"/><circle cx="904.49" cy="581.78" r="6.15"/><circle cx="915.05" cy="581.78" r="6.15"/><circle cx="925.61" cy="581.78" r="6.15"/><circle cx="936.17" cy="581.77" r="6.15"/><circle cx="946.73" cy="581.77" r="6.15"/><circle cx="957.29" cy="581.77" r="6.15"/><circle cx="967.85" cy="581.76" r="6.15"/></g>
<polyline points="651.05,581.78 661.61,581.78 672.17,581.79 682.73,581.79 693.29,581.79 703.85,581.79 714.41,581.79 724.97,581.79 735.53,581.79 746.09,581.76 756.65,581.36 767.21,578.28 777.77,563.93 788.33,524.81 798.89,467.5 809.45,437.66 820.01,467.5 830.57,524.81 841.13,563.93 851.69,578.28 862.25,581.36 872.81,581.76 883.37,581.79 893.93,581.79 904.49,581.79 915.05,581.79 925.61,581.79 936.17,581.79 946.73,581.79 957.29,581.78 967.85,581.78" fill="none" stroke="#94b6ff" stroke-width="2.9" stroke-linejoin="round" stroke-linecap="butt"/>
<g fill="#ffffff" stroke="#94b6ff" stroke-width="2.6"><circle cx="651.05" cy="581.78" r="6.15"/><circle cx="661.61" cy="581.78" r="6.15"/><circle cx="672.17" cy="581.79" r="6.15"/><circle cx="682.73" cy="581.79" r="6.15"/><circle cx="693.29" cy="581.79" r="6.15"/><circle cx="703.85" cy="581.79" r="6.15"/><circle cx="714.41" cy="581.79" r="6.15"/><circle cx="724.97" cy="581.79" r="6.15"/><circle cx="735.53" cy="581.79" r="6.15"/><circle cx="746.09" cy="581.76" r="6.15"/><circle cx="756.65" cy="581.36" r="6.15"/><circle cx="767.21" cy="578.28" r="6.15"/><circle cx="777.77" cy="563.93" r="6.15"/><circle cx="788.33" cy="524.81" r="6.15"/><circle cx="798.89" cy="467.5" r="6.15"/><circle cx="809.45" cy="437.66" r="6.15"/><circle cx="820.01" cy="467.5" r="6.15"/><circle cx="830.57" cy="524.81" r="6.15"/><circle cx="841.13" cy="563.93" r="6.15"/><circle cx="851.69" cy="578.28" r="6.15"/><circle cx="862.25" cy="581.36" r="6.15"/><circle cx="872.81" cy="581.76" r="6.15"/><circle cx="883.37" cy="581.79" r="6.15"/><circle cx="893.93" cy="581.79" r="6.15"/><circle cx="904.49" cy="581.79" r="6.15"/><circle cx="915.05" cy="581.79" r="6.15"/><circle cx="925.61" cy="581.79" r="6.15"/><circle cx="936.17" cy="581.79" r="6.15"/><circle cx="946.73" cy="581.79" r="6.15"/><circle cx="957.29" cy="581.78" r="6.15"/><circle cx="967.85" cy="581.78" r="6.15"/></g>
<polyline points="651.05,581.79 661.61,581.79 672.17,581.79 682.73,581.79 693.29,581.79 703.85,581.8 714.41,581.8 724.97,581.8 735.53,581.8 746.09,581.8 756.65,581.76 767.21,581.04 777.77,573.61 788.33,536.99 798.89,457.6 809.45,407.34 820.01,457.6 830.57,536.99 841.13,573.61 851.69,581.04 862.25,581.76 872.81,581.8 883.37,581.8 893.93,581.8 904.49,581.8 915.05,581.8 925.61,581.79 936.17,581.79 946.73,581.79 957.29,581.79 967.85,581.79" fill="none" stroke="#5977e3" stroke-width="2.9" stroke-linejoin="round" stroke-linecap="butt"/>
<g fill="#ffffff" stroke="#5977e3" stroke-width="2.6"><circle cx="651.05" cy="581.79" r="6.15"/><circle cx="661.61" cy="581.79" r="6.15"/><circle cx="672.17" cy="581.79" r="6.15"/><circle cx="682.73" cy="581.79" r="6.15"/><circle cx="693.29" cy="581.79" r="6.15"/><circle cx="703.85" cy="581.8" r="6.15"/><circle cx="714.41" cy="581.8" r="6.15"/><circle cx="724.97" cy="581.8" r="6.15"/><circle cx="735.53" cy="581.8" r="6.15"/><circle cx="746.09" cy="581.8" r="6.15"/><circle cx="756.65" cy="581.76" r="6.15"/><circle cx="767.21" cy="581.04" r="6.15"/><circle cx="777.77" cy="573.61" r="6.15"/><circle cx="788.33" cy="536.99" r="6.15"/><circle cx="798.89" cy="457.6" r="6.15"/><circle cx="809.45" cy="407.34" r="6.15"/><circle cx="820.01" cy="457.6" r="6.15"/><circle cx="830.57" cy="536.99" r="6.15"/><circle cx="841.13" cy="573.61" r="6.15"/><circle cx="851.69" cy="581.04" r="6.15"/><circle cx="862.25" cy="581.76" r="6.15"/><circle cx="872.81" cy="581.8" r="6.15"/><circle cx="883.37" cy="581.8" r="6.15"/><circle cx="893.93" cy="581.8" r="6.15"/><circle cx="904.49" cy="581.8" r="6.15"/><circle cx="915.05" cy="581.8" r="6.15"/><circle cx="925.61" cy="581.79" r="6.15"/><circle cx="936.17" cy="581.79" r="6.15"/><circle cx="946.73" cy="581.79" r="6.15"/><circle cx="957.29" cy="581.79" r="6.15"/><circle cx="967.85" cy="581.79" r="6.15"/></g>
<polyline points="651.05,581.8 661.61,581.8 672.17,581.8 682.73,581.8 693.29,581.8 703.85,581.8 714.41,581.8 724.97,581.8 735.53,581.8 746.09,581.8 756.65,581.51 767.21,580.08 777.77,571.62 788.33,535.47 798.89,449.67 809.45,387.89 820.01,449.67 830.57,535.47 841.13,571.62 851.69,580.08 862.25,581.51 872.81,581.8 883.37,581.8 893.93,581.8 904.49,581.8 915.05,581.8 925.61,581.8 936.17,581.8 946.73,581.8 957.29,581.8 967.85,581.8" fill="none" stroke="#3b4cc0" stroke-width="2.9" stroke-linejoin="round" stroke-linecap="butt"/>
<g fill="#e2e6f4" stroke="#3b4cc0" stroke-width="2.6"><circle cx="651.05" cy="581.8" r="6.15"/><circle cx="661.61" cy="581.8" r="6.15"/><circle cx="672.17" cy="581.8" r="6.15"/><circle cx="682.73" cy="581.8" r="6.15"/><circle cx="693.29" cy="581.8" r="6.15"/><circle cx="703.85" cy="581.8" r="6.15"/><circle cx="714.41" cy="581.8" r="6.15"/><circle cx="724.97" cy="581.8" r="6.15"/><circle cx="735.53" cy="581.8" r="6.15"/><circle cx="746.09" cy="581.8" r="6.15"/><circle cx="756.65" cy="581.51" r="6.15"/><circle cx="767.21" cy="580.08" r="6.15"/><circle cx="777.77" cy="571.62" r="6.15"/><circle cx="788.33" cy="535.47" r="6.15"/><circle cx="798.89" cy="449.67" r="6.15"/><circle cx="809.45" cy="387.89" r="6.15"/><circle cx="820.01" cy="449.67" r="6.15"/><circle cx="830.57" cy="535.47" r="6.15"/><circle cx="841.13" cy="571.62" r="6.15"/><circle cx="851.69" cy="580.08" r="6.15"/><circle cx="862.25" cy="581.51" r="6.15"/><circle cx="872.81" cy="581.8" r="6.15"/><circle cx="883.37" cy="581.8" r="6.15"/><circle cx="893.93" cy="581.8" r="6.15"/><circle cx="904.49" cy="581.8" r="6.15"/><circle cx="915.05" cy="581.8" r="6.15"/><circle cx="925.61" cy="581.8" r="6.15"/><circle cx="936.17" cy="581.8" r="6.15"/><circle cx="946.73" cy="581.8" r="6.15"/><circle cx="957.29" cy="581.8" r="6.15"/><circle cx="967.85" cy="581.8" r="6.15"/></g>
<text transform="translate(650.25 623.7) scale(0.975 1)" font-size="27" text-anchor="middle" >-15</text>
<text transform="translate(703.05 623.7) scale(0.975 1)" font-size="27" text-anchor="middle" >-10</text>
<text transform="translate(755.85 623.7) scale(0.975 1)" font-size="27" text-anchor="middle" >-5</text>
<text transform="translate(809.45 623.7) scale(0.975 1)" font-size="27" text-anchor="middle" >0</text>
<text transform="translate(862.25 623.7) scale(0.975 1)" font-size="27" text-anchor="middle" >5</text>
<text transform="translate(915.05 623.7) scale(0.975 1)" font-size="27" text-anchor="middle" >10</text>
<text transform="translate(967.85 623.7) scale(0.975 1)" font-size="27" text-anchor="middle" >15</text>
<text transform="translate(625.5 591.2) scale(0.975 1)" font-size="27" text-anchor="end" >0.0</text>
<text transform="translate(625.5 534) scale(0.975 1)" font-size="27" text-anchor="end" >0.1</text>
<text transform="translate(625.5 476.8) scale(0.975 1)" font-size="27" text-anchor="end" >0.2</text>
<text transform="translate(625.5 419.6) scale(0.975 1)" font-size="27" text-anchor="end" >0.3</text>
<defs><linearGradient id="cb1" x1="0" y1="0" x2="0" y2="1"><stop offset="0%" stop-color="#b40426"/><stop offset="6.25%" stop-color="#ca3b37"/><stop offset="12.5%" stop-color="#dd5f4b"/><stop offset="18.75%" stop-color="#eb7d62"/><stop offset="25%" stop-color="#f4987a"/><stop offset="31.25%" stop-color="#f7b093"/><stop offset="37.5%" stop-color="#f5c4ac"/><stop offset="43.75%" stop-color="#ecd3c5"/><stop offset="50%" stop-color="#dddcdc"/><stop offset="56.25%" stop-color="#ccd9ed"/><stop offset="62.5%" stop-color="#b9d0f9"/><stop offset="68.75%" stop-color="#a3c2fe"/><stop offset="75%" stop-color="#8db0fe"/><stop offset="81.25%" stop-color="#779af7"/><stop offset="87.5%" stop-color="#6282ea"/><stop offset="93.75%" stop-color="#4e68d8"/><stop offset="100%" stop-color="#3b4cc0"/></linearGradient></defs>
<rect x="988" y="369.8" width="10.2" height="220.5" fill="url(#cb1)" stroke="#000" stroke-width="1.8"/>
<text transform="translate(1013.4 600.4) scale(0.965 1)" font-size="27" text-anchor="start" >0.2</text>
<line x1="998.2" y1="486.6" x2="993.2" y2="486.6" stroke="#000" stroke-width="1.9" />
<text transform="translate(1013.4 496.7) scale(0.965 1)" font-size="27" text-anchor="start" >0.4</text>
<line x1="998.2" y1="382.7" x2="993.2" y2="382.7" stroke="#000" stroke-width="1.9" />
<text transform="translate(1013.4 392.8) scale(0.965 1)" font-size="27" text-anchor="start" >0.6</text>
<text transform="translate(978 351.6) scale(0.975 1)" font-size="27" text-anchor="start" ><tspan font-style="italic">k</tspan><tspan font-size="19.44" dy="3.78">B</tspan><tspan font-style="italic" dy="-3.78">T</tspan>/<tspan font-style="italic">t</tspan><tspan font-style="italic" font-size="19.44" dy="3.78">x</tspan></text>
<text transform="translate(808 666.2) scale(0.975 1)" font-size="27" text-anchor="middle" >String length <tspan font-family='"Liberation Serif", "DejaVu Serif", serif'>Σ</tspan> from stripe center</text>
<text transform="translate(563.4 527) rotate(-90)" font-size="27" style="stroke-width:0.15px"><tspan x="-2.6" y="0.9" font-family='"DejaVu Sans", "DejaVu Math TeX Gyre", sans-serif' font-size="34.8" style="stroke:none">⟨</tspan><tspan x="11" y="0" font-family='"Liberation Serif", "DejaVu Serif", serif'>Σ</tspan><tspan x="27.2" y="-1.2" font-family='"Liberation Serif", "DejaVu Serif", serif' font-size="31">|</tspan><tspan x="34" y="0" class="i" font-size="25">ρ</tspan><tspan x="38" y="-5" font-size="19" font-family='"Liberation Serif", "DejaVu Serif", serif'>ˆ</tspan><tspan x="46.5" y="5" class="i" font-size="19">y</tspan><tspan x="57.3" y="-0.5" font-size="17" font-family='"Liberation Serif", "DejaVu Serif", serif'>|</tspan><tspan x="64.4" y="0" font-family='"Liberation Serif", "DejaVu Serif", serif'>Σ</tspan><tspan x="80.5" y="0.9" font-family='"DejaVu Sans", "DejaVu Math TeX Gyre", sans-serif' font-size="34.8" style="stroke:none">⟩</tspan></text>
<path d="M563.4 468.4H545.6V462.8H563.4" fill="none" stroke="#000" stroke-width="1.1"/>
<text transform="translate(-0.5 697.2) scale(1.1 1)" font-size="34" text-anchor="start" class="b">d</text>
<line x1="105.4" y1="937.3" x2="442.3" y2="937.3" stroke="#a8a8a8" stroke-width="2.4" />
<line x1="115.55" y1="943" x2="115.55" y2="934" stroke="#000" stroke-width="1.9" />
<line x1="115.55" y1="722.6" x2="115.55" y2="731.6" stroke="#000" stroke-width="1.9" />
<line x1="168.38" y1="943" x2="168.38" y2="934" stroke="#000" stroke-width="1.9" />
<line x1="168.38" y1="722.6" x2="168.38" y2="731.6" stroke="#000" stroke-width="1.9" />
<line x1="221.21" y1="943" x2="221.21" y2="934" stroke="#000" stroke-width="1.9" />
<line x1="221.21" y1="722.6" x2="221.21" y2="731.6" stroke="#000" stroke-width="1.9" />
<line x1="274.04" y1="943" x2="274.04" y2="934" stroke="#000" stroke-width="1.9" />
<line x1="274.04" y1="722.6" x2="274.04" y2="731.6" stroke="#000" stroke-width="1.9" />
<line x1="326.87" y1="943" x2="326.87" y2="934" stroke="#000" stroke-width="1.9" />
<line x1="326.87" y1="722.6" x2="326.87" y2="731.6" stroke="#000" stroke-width="1.9" />
<line x1="379.7" y1="943" x2="379.7" y2="934" stroke="#000" stroke-width="1.9" />
<line x1="379.7" y1="722.6" x2="379.7" y2="731.6" stroke="#000" stroke-width="1.9" />
<line x1="432.53" y1="943" x2="432.53" y2="934" stroke="#000" stroke-width="1.9" />
<line x1="432.53" y1="722.6" x2="432.53" y2="731.6" stroke="#000" stroke-width="1.9" />
<line x1="141.97" y1="943" x2="141.97" y2="937.5" stroke="#000" stroke-width="1.9" />
<line x1="141.97" y1="722.6" x2="141.97" y2="728.1" stroke="#000" stroke-width="1.9" />
<line x1="194.8" y1="943" x2="194.8" y2="937.5" stroke="#000" stroke-width="1.9" />
<line x1="194.8" y1="722.6" x2="194.8" y2="728.1" stroke="#000" stroke-width="1.9" />
<line x1="247.63" y1="943" x2="247.63" y2="937.5" stroke="#000" stroke-width="1.9" />
<line x1="247.63" y1="722.6" x2="247.63" y2="728.1" stroke="#000" stroke-width="1.9" />
<line x1="300.46" y1="943" x2="300.46" y2="937.5" stroke="#000" stroke-width="1.9" />
<line x1="300.46" y1="722.6" x2="300.46" y2="728.1" stroke="#000" stroke-width="1.9" />
<line x1="353.29" y1="943" x2="353.29" y2="937.5" stroke="#000" stroke-width="1.9" />
<line x1="353.29" y1="722.6" x2="353.29" y2="728.1" stroke="#000" stroke-width="1.9" />
<line x1="406.12" y1="943" x2="406.12" y2="937.5" stroke="#000" stroke-width="1.9" />
<line x1="406.12" y1="722.6" x2="406.12" y2="728.1" stroke="#000" stroke-width="1.9" />
<line x1="105.4" y1="937.3" x2="114.4" y2="937.3" stroke="#000" stroke-width="1.9" />
<line x1="442.3" y1="937.3" x2="433.3" y2="937.3" stroke="#000" stroke-width="1.9" />
<line x1="105.4" y1="859.2" x2="114.4" y2="859.2" stroke="#000" stroke-width="1.9" />
<line x1="442.3" y1="859.2" x2="433.3" y2="859.2" stroke="#000" stroke-width="1.9" />
<line x1="105.4" y1="781.1" x2="114.4" y2="781.1" stroke="#000" stroke-width="1.9" />
<line x1="442.3" y1="781.1" x2="433.3" y2="781.1" stroke="#000" stroke-width="1.9" />
<line x1="105.4" y1="898.25" x2="110.9" y2="898.25" stroke="#000" stroke-width="1.9" />
<line x1="442.3" y1="898.25" x2="436.8" y2="898.25" stroke="#000" stroke-width="1.9" />
<line x1="105.4" y1="820.15" x2="110.9" y2="820.15" stroke="#000" stroke-width="1.9" />
<line x1="442.3" y1="820.15" x2="436.8" y2="820.15" stroke="#000" stroke-width="1.9" />
<line x1="105.4" y1="742.05" x2="110.9" y2="742.05" stroke="#000" stroke-width="1.9" />
<line x1="442.3" y1="742.05" x2="436.8" y2="742.05" stroke="#000" stroke-width="1.9" />
<rect x="105.4" y="722.6" width="336.9" height="220.4" fill="none" stroke="#000" stroke-width="2.1"/>
<polyline points="115.55,936.6 126.12,936.38 136.68,936.07 147.25,935.66 157.81,935.12 168.38,934.41 178.95,933.45 189.51,932.18 200.08,930.49 210.64,928.25 221.21,925.26 231.78,921.28 242.34,916 252.91,908.97 263.47,899.62 274.04,884.58 284.61,899.62 295.17,908.97 305.74,916 316.3,921.28 326.87,925.26 337.44,928.25 348,930.49 358.57,932.18 369.13,933.45 379.7,934.41 390.27,935.12 400.83,935.66 411.4,936.07 421.96,936.38 432.53,936.6" fill="none" stroke="#ee8468" stroke-width="2.9" stroke-linejoin="round" stroke-linecap="butt"/>
<g fill="#ffffff" stroke="#ee8468" stroke-width="2.6"><circle cx="115.55" cy="936.6" r="6.15"/><circle cx="126.12" cy="936.38" r="6.15"/><circle cx="136.68" cy="936.07" r="6.15"/><circle cx="147.25" cy="935.66" r="6.15"/><circle cx="157.81" cy="935.12" r="6.15"/><circle cx="168.38" cy="934.41" r="6.15"/><circle cx="178.95" cy="933.45" r="6.15"/><circle cx="189.51" cy="932.18" r="6.15"/><circle cx="200.08" cy="930.49" r="6.15"/><circle cx="210.64" cy="928.25" r="6.15"/><circle cx="221.21" cy="925.26" r="6.15"/><circle cx="231.78" cy="921.28" r="6.15"/><circle cx="242.34" cy="916" r="6.15"/><circle cx="252.91" cy="908.97" r="6.15"/><circle cx="263.47" cy="899.62" r="6.15"/><circle cx="274.04" cy="884.58" r="6.15"/><circle cx="284.61" cy="899.62" r="6.15"/><circle cx="295.17" cy="908.97" r="6.15"/><circle cx="305.74" cy="916" r="6.15"/><circle cx="316.3" cy="921.28" r="6.15"/><circle cx="326.87" cy="925.26" r="6.15"/><circle cx="337.44" cy="928.25" r="6.15"/><circle cx="348" cy="930.49" r="6.15"/><circle cx="358.57" cy="932.18" r="6.15"/><circle cx="369.13" cy="933.45" r="6.15"/><circle cx="379.7" cy="934.41" r="6.15"/><circle cx="390.27" cy="935.12" r="6.15"/><circle cx="400.83" cy="935.66" r="6.15"/><circle cx="411.4" cy="936.07" r="6.15"/><circle cx="421.96" cy="936.38" r="6.15"/><circle cx="432.53" cy="936.6" r="6.15"/></g>
<polyline points="115.55,936.87 126.12,936.7 136.68,936.47 147.25,936.15 157.81,935.71 168.38,935.1 178.95,934.24 189.51,933.06 200.08,931.42 210.64,929.15 221.21,926 231.78,921.63 242.34,915.57 252.91,907.17 263.47,895.52 274.04,875.99 284.61,895.52 295.17,907.17 305.74,915.57 316.3,921.63 326.87,926 337.44,929.15 348,931.42 358.57,933.06 369.13,934.24 379.7,935.1 390.27,935.71 400.83,936.15 411.4,936.47 421.96,936.7 432.53,936.87" fill="none" stroke="#f6a586" stroke-width="2.9" stroke-linejoin="round" stroke-linecap="butt"/>
<g fill="#ffffff" stroke="#f6a586" stroke-width="2.6"><circle cx="115.55" cy="936.87" r="6.15"/><circle cx="126.12" cy="936.7" r="6.15"/><circle cx="136.68" cy="936.47" r="6.15"/><circle cx="147.25" cy="936.15" r="6.15"/><circle cx="157.81" cy="935.71" r="6.15"/><circle cx="168.38" cy="935.1" r="6.15"/><circle cx="178.95" cy="934.24" r="6.15"/><circle cx="189.51" cy="933.06" r="6.15"/><circle cx="200.08" cy="931.42" r="6.15"/><circle cx="210.64" cy="929.15" r="6.15"/><circle cx="221.21" cy="926" r="6.15"/><circle cx="231.78" cy="921.63" r="6.15"/><circle cx="242.34" cy="915.57" r="6.15"/><circle cx="252.91" cy="907.17" r="6.15"/><circle cx="263.47" cy="895.52" r="6.15"/><circle cx="274.04" cy="875.99" r="6.15"/><circle cx="284.61" cy="895.52" r="6.15"/><circle cx="295.17" cy="907.17" r="6.15"/><circle cx="305.74" cy="915.57" r="6.15"/><circle cx="316.3" cy="921.63" r="6.15"/><circle cx="326.87" cy="926" r="6.15"/><circle cx="337.44" cy="929.15" r="6.15"/><circle cx="348" cy="931.42" r="6.15"/><circle cx="358.57" cy="933.06" r="6.15"/><circle cx="369.13" cy="934.24" r="6.15"/><circle cx="379.7" cy="935.1" r="6.15"/><circle cx="390.27" cy="935.71" r="6.15"/><circle cx="400.83" cy="936.15" r="6.15"/><circle cx="411.4" cy="936.47" r="6.15"/><circle cx="421.96" cy="936.7" r="6.15"/><circle cx="432.53" cy="936.87" r="6.15"/></g>
<polyline points="115.55,937.09 126.12,936.99 136.68,936.84 147.25,936.62 157.81,936.3 168.38,935.83 178.95,935.14 189.51,934.13 200.08,932.65 210.64,930.46 221.21,927.25 231.78,922.53 242.34,915.6 252.91,905.41 263.47,890.44 274.04,865.06 284.61,890.44 295.17,905.41 305.74,915.6 316.3,922.53 326.87,927.25 337.44,930.46 348,932.65 358.57,934.13 369.13,935.14 379.7,935.83 390.27,936.3 400.83,936.62 411.4,936.84 421.96,936.99 432.53,937.09" fill="none" stroke="#f4c6af" stroke-width="2.9" stroke-linejoin="round" stroke-linecap="butt"/>
<g fill="#ffffff" stroke="#f4c6af" stroke-width="2.6"><circle cx="115.55" cy="937.09" r="6.15"/><circle cx="126.12" cy="936.99" r="6.15"/><circle cx="136.68" cy="936.84" r="6.15"/><circle cx="147.25" cy="936.62" r="6.15"/><circle cx="157.81" cy="936.3" r="6.15"/><circle cx="168.38" cy="935.83" r="6.15"/><circle cx="178.95" cy="935.14" r="6.15"/><circle cx="189.51" cy="934.13" r="6.15"/><circle cx="200.08" cy="932.65" r="6.15"/><circle cx="210.64" cy="930.46" r="6.15"/><circle cx="221.21" cy="927.25" r="6.15"/><circle cx="231.78" cy="922.53" r="6.15"/><circle cx="242.34" cy="915.6" r="6.15"/><circle cx="252.91" cy="905.41" r="6.15"/><circle cx="263.47" cy="890.44" r="6.15"/><circle cx="274.04" cy="865.06" r="6.15"/><circle cx="284.61" cy="890.44" r="6.15"/><circle cx="295.17" cy="905.41" r="6.15"/><circle cx="305.74" cy="915.6" r="6.15"/><circle cx="316.3" cy="922.53" r="6.15"/><circle cx="326.87" cy="927.25" r="6.15"/><circle cx="337.44" cy="930.46" r="6.15"/><circle cx="348" cy="932.65" r="6.15"/><circle cx="358.57" cy="934.13" r="6.15"/><circle cx="369.13" cy="935.14" r="6.15"/><circle cx="379.7" cy="935.83" r="6.15"/><circle cx="390.27" cy="936.3" r="6.15"/><circle cx="400.83" cy="936.62" r="6.15"/><circle cx="411.4" cy="936.84" r="6.15"/><circle cx="421.96" cy="936.99" r="6.15"/><circle cx="432.53" cy="937.09" r="6.15"/></g>
<polyline points="115.55,937.21 126.12,937.16 136.68,937.08 147.25,936.96 157.81,936.76 168.38,936.45 178.95,935.95 189.51,935.17 200.08,933.93 210.64,931.97 221.21,928.87 231.78,923.97 242.34,916.22 252.91,903.96 263.47,884.58 274.04,854.51 284.61,884.58 295.17,903.96 305.74,916.22 316.3,923.97 326.87,928.87 337.44,931.97 348,933.93 358.57,935.17 369.13,935.95 379.7,936.45 390.27,936.76 400.83,936.96 411.4,937.08 421.96,937.16 432.53,937.21" fill="none" stroke="#e2dad5" stroke-width="2.9" stroke-linejoin="round" stroke-linecap="butt"/>
<g fill="#ffffff" stroke="#e2dad5" stroke-width="2.6"><circle cx="115.55" cy="937.21" r="6.15"/><circle cx="126.12" cy="937.16" r="6.15"/><circle cx="136.68" cy="937.08" r="6.15"/><circle cx="147.25" cy="936.96" r="6.15"/><circle cx="157.81" cy="936.76" r="6.15"/><circle cx="168.38" cy="936.45" r="6.15"/><circle cx="178.95" cy="935.95" r="6.15"/><circle cx="189.51" cy="935.17" r="6.15"/><circle cx="200.08" cy="933.93" r="6.15"/><circle cx="210.64" cy="931.97" r="6.15"/><circle cx="221.21" cy="928.87" r="6.15"/><circle cx="231.78" cy="923.97" r="6.15"/><circle cx="242.34" cy="916.22" r="6.15"/><circle cx="252.91" cy="903.96" r="6.15"/><circle cx="263.47" cy="884.58" r="6.15"/><circle cx="274.04" cy="854.51" r="6.15"/><circle cx="284.61" cy="884.58" r="6.15"/><circle cx="295.17" cy="903.96" r="6.15"/><circle cx="305.74" cy="916.22" r="6.15"/><circle cx="316.3" cy="923.97" r="6.15"/><circle cx="326.87" cy="928.87" r="6.15"/><circle cx="337.44" cy="931.97" r="6.15"/><circle cx="348" cy="933.93" r="6.15"/><circle cx="358.57" cy="935.17" r="6.15"/><circle cx="369.13" cy="935.95" r="6.15"/><circle cx="379.7" cy="936.45" r="6.15"/><circle cx="390.27" cy="936.76" r="6.15"/><circle cx="400.83" cy="936.96" r="6.15"/><circle cx="411.4" cy="937.08" r="6.15"/><circle cx="421.96" cy="937.16" r="6.15"/><circle cx="432.53" cy="937.21" r="6.15"/></g>
<polyline points="115.55,937.28 126.12,937.26 136.68,937.23 147.25,937.17 157.81,937.08 168.38,936.91 178.95,936.61 189.51,936.1 200.08,935.2 210.64,933.62 221.21,930.87 231.78,926.05 242.34,917.63 252.91,902.91 263.47,877.16 274.04,845.14 284.61,877.16 295.17,902.91 305.74,917.63 316.3,926.05 326.87,930.87 337.44,933.62 348,935.2 358.57,936.1 369.13,936.61 379.7,936.91 390.27,937.08 400.83,937.17 411.4,937.23 421.96,937.26 432.53,937.28" fill="none" stroke="#cfdaea" stroke-width="2.9" stroke-linejoin="round" stroke-linecap="butt"/>
<g fill="#ffffff" stroke="#cfdaea" stroke-width="2.6"><circle cx="115.55" cy="937.28" r="6.15"/><circle cx="126.12" cy="937.26" r="6.15"/><circle cx="136.68" cy="937.23" r="6.15"/><circle cx="147.25" cy="937.17" r="6.15"/><circle cx="157.81" cy="937.08" r="6.15"/><circle cx="168.38" cy="936.91" r="6.15"/><circle cx="178.95" cy="936.61" r="6.15"/><circle cx="189.51" cy="936.1" r="6.15"/><circle cx="200.08" cy="935.2" r="6.15"/><circle cx="210.64" cy="933.62" r="6.15"/><circle cx="221.21" cy="930.87" r="6.15"/><circle cx="231.78" cy="926.05" r="6.15"/><circle cx="242.34" cy="917.63" r="6.15"/><circle cx="252.91" cy="902.91" r="6.15"/><circle cx="263.47" cy="877.16" r="6.15"/><circle cx="274.04" cy="845.14" r="6.15"/><circle cx="284.61" cy="877.16" r="6.15"/><circle cx="295.17" cy="902.91" r="6.15"/><circle cx="305.74" cy="917.63" r="6.15"/><circle cx="316.3" cy="926.05" r="6.15"/><circle cx="326.87" cy="930.87" r="6.15"/><circle cx="337.44" cy="933.62" r="6.15"/><circle cx="348" cy="935.2" r="6.15"/><circle cx="358.57" cy="936.1" r="6.15"/><circle cx="369.13" cy="936.61" r="6.15"/><circle cx="379.7" cy="936.91" r="6.15"/><circle cx="390.27" cy="937.08" r="6.15"/><circle cx="400.83" cy="937.17" r="6.15"/><circle cx="411.4" cy="937.23" r="6.15"/><circle cx="421.96" cy="937.26" r="6.15"/><circle cx="432.53" cy="937.28" r="6.15"/></g>
<polyline points="115.55,937.3 126.12,937.29 136.68,937.28 147.25,937.26 157.81,937.23 168.38,937.16 178.95,937.02 189.51,936.75 200.08,936.21 210.64,935.14 221.21,933.03 231.78,928.85 242.34,920.56 252.91,904.17 263.47,871.7 274.04,826.01 284.61,871.7 295.17,904.17 305.74,920.56 316.3,928.85 326.87,933.03 337.44,935.14 348,936.21 358.57,936.75 369.13,937.02 379.7,937.16 390.27,937.23 400.83,937.26 411.4,937.28 421.96,937.29 432.53,937.3" fill="none" stroke="#bad0f8" stroke-width="2.9" stroke-linejoin="round" stroke-linecap="butt"/>
<g fill="#ffffff" stroke="#bad0f8" stroke-width="2.6"><circle cx="115.55" cy="937.3" r="6.15"/><circle cx="126.12" cy="937.29" r="6.15"/><circle cx="136.68" cy="937.28" r="6.15"/><circle cx="147.25" cy="937.26" r="6.15"/><circle cx="157.81" cy="937.23" r="6.15"/><circle cx="168.38" cy="937.16" r="6.15"/><circle cx="178.95" cy="937.02" r="6.15"/><circle cx="189.51" cy="936.75" r="6.15"/><circle cx="200.08" cy="936.21" r="6.15"/><circle cx="210.64" cy="935.14" r="6.15"/><circle cx="221.21" cy="933.03" r="6.15"/><circle cx="231.78" cy="928.85" r="6.15"/><circle cx="242.34" cy="920.56" r="6.15"/><circle cx="252.91" cy="904.17" r="6.15"/><circle cx="263.47" cy="871.7" r="6.15"/><circle cx="274.04" cy="826.01" r="6.15"/><circle cx="284.61" cy="871.7" r="6.15"/><circle cx="295.17" cy="904.17" r="6.15"/><circle cx="305.74" cy="920.56" r="6.15"/><circle cx="316.3" cy="928.85" r="6.15"/><circle cx="326.87" cy="933.03" r="6.15"/><circle cx="337.44" cy="935.14" r="6.15"/><circle cx="348" cy="936.21" r="6.15"/><circle cx="358.57" cy="936.75" r="6.15"/><circle cx="369.13" cy="937.02" r="6.15"/><circle cx="379.7" cy="937.16" r="6.15"/><circle cx="390.27" cy="937.23" r="6.15"/><circle cx="400.83" cy="937.26" r="6.15"/><circle cx="411.4" cy="937.28" r="6.15"/><circle cx="421.96" cy="937.29" r="6.15"/><circle cx="432.53" cy="937.3" r="6.15"/></g>
<polyline points="115.55,937.3 126.12,937.3 136.68,937.3 147.25,937.3 157.81,937.29 168.38,937.28 178.95,937.26 189.51,937.2 200.08,937.04 210.64,936.64 221.21,935.63 231.78,933.06 242.34,926.57 252.91,910.15 263.47,868.57 274.04,783.83 284.61,868.57 295.17,910.15 305.74,926.57 316.3,933.06 326.87,935.63 337.44,936.64 348,937.04 358.57,937.2 369.13,937.26 379.7,937.28 390.27,937.29 400.83,937.3 411.4,937.3 421.96,937.3 432.53,937.3" fill="none" stroke="#5977e3" stroke-width="2.9" stroke-linejoin="round" stroke-linecap="butt"/>
<g fill="#ffffff" stroke="#5977e3" stroke-width="2.6"><circle cx="115.55" cy="937.3" r="6.15"/><circle cx="126.12" cy="937.3" r="6.15"/><circle cx="136.68" cy="937.3" r="6.15"/><circle cx="147.25" cy="937.3" r="6.15"/><circle cx="157.81" cy="937.29" r="6.15"/><circle cx="168.38" cy="937.28" r="6.15"/><circle cx="178.95" cy="937.26" r="6.15"/><circle cx="189.51" cy="937.2" r="6.15"/><circle cx="200.08" cy="937.04" r="6.15"/><circle cx="210.64" cy="936.64" r="6.15"/><circle cx="221.21" cy="935.63" r="6.15"/><circle cx="231.78" cy="933.06" r="6.15"/><circle cx="242.34" cy="926.57" r="6.15"/><circle cx="252.91" cy="910.15" r="6.15"/><circle cx="263.47" cy="868.57" r="6.15"/><circle cx="274.04" cy="783.83" r="6.15"/><circle cx="284.61" cy="868.57" r="6.15"/><circle cx="295.17" cy="910.15" r="6.15"/><circle cx="305.74" cy="926.57" r="6.15"/><circle cx="316.3" cy="933.06" r="6.15"/><circle cx="326.87" cy="935.63" r="6.15"/><circle cx="337.44" cy="936.64" r="6.15"/><circle cx="348" cy="937.04" r="6.15"/><circle cx="358.57" cy="937.2" r="6.15"/><circle cx="369.13" cy="937.26" r="6.15"/><circle cx="379.7" cy="937.28" r="6.15"/><circle cx="390.27" cy="937.29" r="6.15"/><circle cx="400.83" cy="937.3" r="6.15"/><circle cx="411.4" cy="937.3" r="6.15"/><circle cx="421.96" cy="937.3" r="6.15"/><circle cx="432.53" cy="937.3" r="6.15"/></g>
<polyline points="115.55,937.3 126.12,937.3 136.68,937.3 147.25,937.3 157.81,937.3 168.38,937.3 178.95,937.3 189.51,937.3 200.08,937.3 210.64,937.3 221.21,936.91 231.78,935.74 242.34,931.64 252.91,918.56 263.47,867.79 274.04,738.14 284.61,867.79 295.17,918.56 305.74,931.64 316.3,935.74 326.87,936.91 337.44,937.3 348,937.3 358.57,937.3 369.13,937.3 379.7,937.3 390.27,937.3 400.83,937.3 411.4,937.3 421.96,937.3 432.53,937.3" fill="none" stroke="#3b4cc0" stroke-width="2.9" stroke-linejoin="round" stroke-linecap="butt"/>
<g fill="#e2e6f4" stroke="#3b4cc0" stroke-width="2.6"><circle cx="115.55" cy="937.3" r="6.15"/><circle cx="126.12" cy="937.3" r="6.15"/><circle cx="136.68" cy="937.3" r="6.15"/><circle cx="147.25" cy="937.3" r="6.15"/><circle cx="157.81" cy="937.3" r="6.15"/><circle cx="168.38" cy="937.3" r="6.15"/><circle cx="178.95" cy="937.3" r="6.15"/><circle cx="189.51" cy="937.3" r="6.15"/><circle cx="200.08" cy="937.3" r="6.15"/><circle cx="210.64" cy="937.3" r="6.15"/><circle cx="221.21" cy="936.91" r="6.15"/><circle cx="231.78" cy="935.74" r="6.15"/><circle cx="242.34" cy="931.64" r="6.15"/><circle cx="252.91" cy="918.56" r="6.15"/><circle cx="263.47" cy="867.79" r="6.15"/><circle cx="274.04" cy="738.14" r="6.15"/><circle cx="284.61" cy="867.79" r="6.15"/><circle cx="295.17" cy="918.56" r="6.15"/><circle cx="305.74" cy="931.64" r="6.15"/><circle cx="316.3" cy="935.74" r="6.15"/><circle cx="326.87" cy="936.91" r="6.15"/><circle cx="337.44" cy="937.3" r="6.15"/><circle cx="348" cy="937.3" r="6.15"/><circle cx="358.57" cy="937.3" r="6.15"/><circle cx="369.13" cy="937.3" r="6.15"/><circle cx="379.7" cy="937.3" r="6.15"/><circle cx="390.27" cy="937.3" r="6.15"/><circle cx="400.83" cy="937.3" r="6.15"/><circle cx="411.4" cy="937.3" r="6.15"/><circle cx="421.96" cy="937.3" r="6.15"/><circle cx="432.53" cy="937.3" r="6.15"/></g>
<text transform="translate(114.75 976.5) scale(0.975 1)" font-size="27" text-anchor="middle" >-15</text>
<text transform="translate(167.58 976.5) scale(0.975 1)" font-size="27" text-anchor="middle" >-10</text>
<text transform="translate(220.41 976.5) scale(0.975 1)" font-size="27" text-anchor="middle" >-5</text>
<text transform="translate(274.04 976.5) scale(0.975 1)" font-size="27" text-anchor="middle" >0</text>
<text transform="translate(326.87 976.5) scale(0.975 1)" font-size="27" text-anchor="middle" >5</text>
<text transform="translate(379.7 976.5) scale(0.975 1)" font-size="27" text-anchor="middle" >10</text>
<text transform="translate(432.53 976.5) scale(0.975 1)" font-size="27" text-anchor="middle" >15</text>
<text transform="translate(90.5 946.7) scale(0.975 1)" font-size="27" text-anchor="end" >0.0</text>
<text transform="translate(90.5 868.6) scale(0.975 1)" font-size="27" text-anchor="end" >0.2</text>
<text transform="translate(90.5 790.5) scale(0.975 1)" font-size="27" text-anchor="end" >0.4</text>
<defs><linearGradient id="cb2" x1="0" y1="0" x2="0" y2="1"><stop offset="0%" stop-color="#b40426"/><stop offset="6.25%" stop-color="#ca3b37"/><stop offset="12.5%" stop-color="#dd5f4b"/><stop offset="18.75%" stop-color="#eb7d62"/><stop offset="25%" stop-color="#f4987a"/><stop offset="31.25%" stop-color="#f7b093"/><stop offset="37.5%" stop-color="#f5c4ac"/><stop offset="43.75%" stop-color="#ecd3c5"/><stop offset="50%" stop-color="#dddcdc"/><stop offset="56.25%" stop-color="#ccd9ed"/><stop offset="62.5%" stop-color="#b9d0f9"/><stop offset="68.75%" stop-color="#a3c2fe"/><stop offset="75%" stop-color="#8db0fe"/><stop offset="81.25%" stop-color="#779af7"/><stop offset="87.5%" stop-color="#6282ea"/><stop offset="93.75%" stop-color="#4e68d8"/><stop offset="100%" stop-color="#3b4cc0"/></linearGradient></defs>
<rect x="452.4" y="722.6" width="10.45" height="220.4" fill="url(#cb2)" stroke="#000" stroke-width="1.8"/>
<text transform="translate(477 953.1) scale(0.965 1)" font-size="27" text-anchor="start" >0.4</text>
<line x1="462.85" y1="869" x2="457.85" y2="869" stroke="#000" stroke-width="1.9" />
<text transform="translate(477 879.1) scale(0.965 1)" font-size="27" text-anchor="start" >0.6</text>
<line x1="462.85" y1="795.9" x2="457.85" y2="795.9" stroke="#000" stroke-width="1.9" />
<text transform="translate(477 806) scale(0.965 1)" font-size="27" text-anchor="start" >0.8</text>
<text transform="translate(477 732.8) scale(0.965 1)" font-size="27" text-anchor="start" >1.0</text>
<text transform="translate(440 702.6) scale(0.975 1)" font-size="27" text-anchor="start" ><tspan font-style="italic">k</tspan><tspan font-size="19.44" dy="3.78">B</tspan><tspan font-style="italic" dy="-3.78">T</tspan>/<tspan font-style="italic">J</tspan><tspan font-style="italic" font-size="19.44" dy="3.78">y</tspan></text>
<text transform="translate(27 834) rotate(-90) scale(0.97 1)" font-size="25.5" text-anchor="middle" ><tspan class="i">p</tspan>(|<tspan class="i">d</tspan>|)</text>
<text transform="translate(272 1019) scale(0.975 1)" font-size="27" text-anchor="middle" >|<tspan class="i">d</tspan>|</text>
<text transform="translate(527.8 697.2) scale(1.1 1)" font-size="34" text-anchor="start" class="b">e</text>
<line x1="794" y1="723.2" x2="794" y2="942.7" stroke="#adadad" stroke-width="3.3" stroke-dasharray="11.2 4.9"/>
<polyline points="655.7,733.2 699.9,756.5 746.6,784.8 793.6,810.5 805.5,816.7 820,823.2 845.4,835 901.7,852.5 939.6,857.2 983.6,864.2" fill="none" stroke="#4a6288" stroke-width="4.6" stroke-linejoin="round" stroke-linecap="butt"/>
<rect x="641.4" y="722.6" width="356.65" height="220.1" fill="none" stroke="#000" stroke-width="2.1"/>
<line x1="700.1" y1="942.7" x2="700.1" y2="933.7" stroke="#000" stroke-width="1.9" />
<line x1="700.1" y1="722.6" x2="700.1" y2="731.6" stroke="#000" stroke-width="1.9" />
<line x1="794" y1="942.7" x2="794" y2="933.7" stroke="#000" stroke-width="1.9" />
<line x1="794" y1="722.6" x2="794" y2="731.6" stroke="#000" stroke-width="1.9" />
<line x1="887.9" y1="942.7" x2="887.9" y2="933.7" stroke="#000" stroke-width="1.9" />
<line x1="887.9" y1="722.6" x2="887.9" y2="731.6" stroke="#000" stroke-width="1.9" />
<line x1="981.8" y1="942.7" x2="981.8" y2="933.7" stroke="#000" stroke-width="1.9" />
<line x1="981.8" y1="722.6" x2="981.8" y2="731.6" stroke="#000" stroke-width="1.9" />
<line x1="653.15" y1="942.7" x2="653.15" y2="937.2" stroke="#000" stroke-width="1.9" />
<line x1="653.15" y1="722.6" x2="653.15" y2="728.1" stroke="#000" stroke-width="1.9" />
<line x1="747.05" y1="942.7" x2="747.05" y2="937.2" stroke="#000" stroke-width="1.9" />
<line x1="747.05" y1="722.6" x2="747.05" y2="728.1" stroke="#000" stroke-width="1.9" />
<line x1="840.95" y1="942.7" x2="840.95" y2="937.2" stroke="#000" stroke-width="1.9" />
<line x1="840.95" y1="722.6" x2="840.95" y2="728.1" stroke="#000" stroke-width="1.9" />
<line x1="934.85" y1="942.7" x2="934.85" y2="937.2" stroke="#000" stroke-width="1.9" />
<line x1="934.85" y1="722.6" x2="934.85" y2="728.1" stroke="#000" stroke-width="1.9" />
<line x1="641.4" y1="888" x2="650.4" y2="888" stroke="#000" stroke-width="1.9" />
<line x1="998.05" y1="888" x2="989.05" y2="888" stroke="#000" stroke-width="1.9" />
<line x1="641.4" y1="833" x2="650.4" y2="833" stroke="#000" stroke-width="1.9" />
<line x1="998.05" y1="833" x2="989.05" y2="833" stroke="#000" stroke-width="1.9" />
<line x1="641.4" y1="778" x2="650.4" y2="778" stroke="#000" stroke-width="1.9" />
<line x1="998.05" y1="778" x2="989.05" y2="778" stroke="#000" stroke-width="1.9" />
<line x1="641.4" y1="915.5" x2="646.9" y2="915.5" stroke="#000" stroke-width="1.9" />
<line x1="998.05" y1="915.5" x2="992.55" y2="915.5" stroke="#000" stroke-width="1.9" />
<line x1="641.4" y1="860.5" x2="646.9" y2="860.5" stroke="#000" stroke-width="1.9" />
<line x1="998.05" y1="860.5" x2="992.55" y2="860.5" stroke="#000" stroke-width="1.9" />
<line x1="641.4" y1="805.5" x2="646.9" y2="805.5" stroke="#000" stroke-width="1.9" />
<line x1="998.05" y1="805.5" x2="992.55" y2="805.5" stroke="#000" stroke-width="1.9" />
<line x1="641.4" y1="750.5" x2="646.9" y2="750.5" stroke="#000" stroke-width="1.9" />
<line x1="998.05" y1="750.5" x2="992.55" y2="750.5" stroke="#000" stroke-width="1.9" />
<text transform="translate(700.1 976.5) scale(0.975 1)" font-size="27" text-anchor="middle" >0.4</text>
<text transform="translate(794 976.5) scale(0.975 1)" font-size="27" text-anchor="middle" >0.6</text>
<text transform="translate(887.9 976.5) scale(0.975 1)" font-size="27" text-anchor="middle" >0.8</text>
<text transform="translate(981.8 976.5) scale(0.975 1)" font-size="27" text-anchor="middle" >1.0</text>
<text transform="translate(626.2 897.8) scale(0.975 1)" font-size="27" text-anchor="end" >3</text>
<text transform="translate(626.2 842.8) scale(0.975 1)" font-size="27" text-anchor="end" >4</text>
<text transform="translate(626.2 787.8) scale(0.975 1)" font-size="27" text-anchor="end" >5</text>
<text transform="translate(626.2 732.8) scale(0.975 1)" font-size="27" text-anchor="end" >6</text>
<text transform="translate(588.8 832.3) rotate(-90) scale(1.03 1)" font-size="25.6" text-anchor="middle" >Mean length of excess stripes</text>
<text transform="translate(819 1018) scale(0.975 1)" font-size="27" text-anchor="middle" >Temperature <tspan font-style="italic">k</tspan><tspan font-size="19.44" dy="3.78">B</tspan><tspan font-style="italic" dy="-3.78">T</tspan>/<tspan font-style="italic">J</tspan><tspan font-style="italic" font-size="19.44" dy="3.78">y</tspan></text>
<text transform="translate(-0.8 1046.9) scale(1.1 1)" font-size="34" text-anchor="start" class="b">f</text>
<defs><clipPath id="clipf"><rect x="105.4" y="1075.5" width="337" height="220.5"/></clipPath></defs>
<line x1="105.4" y1="1287.7" x2="442.4" y2="1287.7" stroke="#a8a8a8" stroke-width="2.4" />
<g clip-path="url(#clipf)">
<polyline points="120.9,1287.7 159.15,1251.63 197.4,1039.43 235.65,1007.6 273.9,1095.45 312.15,1172.01 350.4,1218.61 388.65,1249.08 426.9,1267.54" fill="none" stroke="#3b4cc0" stroke-width="4.2" stroke-linejoin="round" stroke-linecap="square"/>
<polyline points="120.9,1287.7 159.15,1252.9 197.4,1050.04 235.65,1054.28 273.9,1136.78 312.15,1202.82 350.4,1240.59 388.65,1263.72 426.9,1276.24" fill="none" stroke="#5977e3" stroke-width="4.2" stroke-linejoin="round" stroke-linecap="square"/>
<polyline points="120.9,1287.7 159.15,1254.6 197.4,1094.6 235.65,1126.43 273.9,1198.58 312.15,1243.35 350.4,1266.18 388.65,1276.67 426.9,1281.97" fill="none" stroke="#82a6fb" stroke-width="4.2" stroke-linejoin="round" stroke-linecap="square"/>
<polyline points="120.9,1287.7 159.15,1257.99 197.4,1142.13 235.65,1179.48 273.9,1234.78 312.15,1264.36 350.4,1277.6 388.65,1282.35 426.9,1285.15" fill="none" stroke="#a9c6fd" stroke-width="4.2" stroke-linejoin="round" stroke-linecap="square"/>
<polyline points="120.9,1287.7 159.15,1274.97 197.4,1211.31 235.65,1238.89 273.9,1267.33 312.15,1278.58 350.4,1283.46 388.65,1286 426.9,1286.85" fill="none" stroke="#dddcdc" stroke-width="4.4" stroke-linejoin="round" stroke-linecap="square"/>
<polyline points="120.9,1287.7 159.15,1287.7 197.4,1249.5 235.65,1260.11 273.9,1274.97 312.15,1282.35 350.4,1285.58 388.65,1286.85 426.9,1287.28" fill="none" stroke="#f4c6af" stroke-width="4.6" stroke-linejoin="round" stroke-linecap="square"/>
<polyline points="120.9,1287.7 159.15,1306.8 197.4,1294.66 235.65,1283.46 273.9,1282.73 312.15,1286 350.4,1287.28 388.65,1287.49 426.9,1287.49" fill="none" stroke="#f6a586" stroke-width="5" stroke-linejoin="round" stroke-linecap="square"/>
</g>
<line x1="120.9" y1="1296" x2="120.9" y2="1287" stroke="#000" stroke-width="1.9" />
<line x1="120.9" y1="1075.5" x2="120.9" y2="1084.5" stroke="#000" stroke-width="1.9" />
<line x1="197.4" y1="1296" x2="197.4" y2="1287" stroke="#000" stroke-width="1.9" />
<line x1="197.4" y1="1075.5" x2="197.4" y2="1084.5" stroke="#000" stroke-width="1.9" />
<line x1="273.9" y1="1296" x2="273.9" y2="1287" stroke="#000" stroke-width="1.9" />
<line x1="273.9" y1="1075.5" x2="273.9" y2="1084.5" stroke="#000" stroke-width="1.9" />
<line x1="350.4" y1="1296" x2="350.4" y2="1287" stroke="#000" stroke-width="1.9" />
<line x1="350.4" y1="1075.5" x2="350.4" y2="1084.5" stroke="#000" stroke-width="1.9" />
<line x1="426.9" y1="1296" x2="426.9" y2="1287" stroke="#000" stroke-width="1.9" />
<line x1="426.9" y1="1075.5" x2="426.9" y2="1084.5" stroke="#000" stroke-width="1.9" />
<line x1="159.15" y1="1296" x2="159.15" y2="1290.5" stroke="#000" stroke-width="1.9" />
<line x1="159.15" y1="1075.5" x2="159.15" y2="1081" stroke="#000" stroke-width="1.9" />
<line x1="235.65" y1="1296" x2="235.65" y2="1290.5" stroke="#000" stroke-width="1.9" />
<line x1="235.65" y1="1075.5" x2="235.65" y2="1081" stroke="#000" stroke-width="1.9" />
<line x1="312.15" y1="1296" x2="312.15" y2="1290.5" stroke="#000" stroke-width="1.9" />
<line x1="312.15" y1="1075.5" x2="312.15" y2="1081" stroke="#000" stroke-width="1.9" />
<line x1="388.65" y1="1296" x2="388.65" y2="1290.5" stroke="#000" stroke-width="1.9" />
<line x1="388.65" y1="1075.5" x2="388.65" y2="1081" stroke="#000" stroke-width="1.9" />
<line x1="105.4" y1="1287.7" x2="114.4" y2="1287.7" stroke="#000" stroke-width="1.9" />
<line x1="442.4" y1="1287.7" x2="433.4" y2="1287.7" stroke="#000" stroke-width="1.9" />
<line x1="105.4" y1="1202.82" x2="114.4" y2="1202.82" stroke="#000" stroke-width="1.9" />
<line x1="442.4" y1="1202.82" x2="433.4" y2="1202.82" stroke="#000" stroke-width="1.9" />
<line x1="105.4" y1="1117.94" x2="114.4" y2="1117.94" stroke="#000" stroke-width="1.9" />
<line x1="442.4" y1="1117.94" x2="433.4" y2="1117.94" stroke="#000" stroke-width="1.9" />
<line x1="105.4" y1="1245.26" x2="110.9" y2="1245.26" stroke="#000" stroke-width="1.9" />
<line x1="442.4" y1="1245.26" x2="436.9" y2="1245.26" stroke="#000" stroke-width="1.9" />
<line x1="105.4" y1="1160.38" x2="110.9" y2="1160.38" stroke="#000" stroke-width="1.9" />
<line x1="442.4" y1="1160.38" x2="436.9" y2="1160.38" stroke="#000" stroke-width="1.9" />
<rect x="105.4" y="1075.5" width="337" height="220.5" fill="none" stroke="#000" stroke-width="2.1"/>
<line x1="120.9" y1="1296.82" x2="120.9" y2="1278.58" stroke="#4e7d50" stroke-width="2.7" stroke-linecap="round"/>
<line x1="159.15" y1="1278.58" x2="159.15" y2="1244.62" stroke="#4e7d50" stroke-width="2.7" stroke-linecap="round"/>
<line x1="197.4" y1="1178.42" x2="197.4" y2="1146.16" stroke="#4e7d50" stroke-width="2.7" stroke-linecap="round"/>
<line x1="235.65" y1="1234.44" x2="235.65" y2="1214.07" stroke="#4e7d50" stroke-width="2.7" stroke-linecap="round"/>
<line x1="273.9" y1="1269.88" x2="273.9" y2="1257.14" stroke="#4e7d50" stroke-width="2.7" stroke-linecap="round"/>
<line x1="312.15" y1="1287.06" x2="312.15" y2="1278.58" stroke="#4e7d50" stroke-width="2.7" stroke-linecap="round"/>
<line x1="350.4" y1="1289.4" x2="350.4" y2="1284.3" stroke="#4e7d50" stroke-width="2.7" stroke-linecap="round"/>
<line x1="388.65" y1="1289.27" x2="388.65" y2="1285.88" stroke="#4e7d50" stroke-width="2.7" stroke-linecap="round"/>
<line x1="426.9" y1="1288.85" x2="426.9" y2="1286.3" stroke="#4e7d50" stroke-width="2.7" stroke-linecap="round"/>
<circle cx="120.9" cy="1287.7" r="6.15" fill="#a9d5a8" stroke="#4e7d50" stroke-width="2.7"/>
<circle cx="159.15" cy="1261.6" r="6.15" fill="#a9d5a8" stroke="#4e7d50" stroke-width="2.7"/>
<circle cx="197.4" cy="1162.29" r="6.15" fill="#a9d5a8" stroke="#4e7d50" stroke-width="2.7"/>
<circle cx="235.65" cy="1224.25" r="6.15" fill="#a9d5a8" stroke="#4e7d50" stroke-width="2.7"/>
<circle cx="273.9" cy="1263.51" r="6.15" fill="#a9d5a8" stroke="#4e7d50" stroke-width="2.7"/>
<circle cx="312.15" cy="1282.82" r="6.15" fill="#a9d5a8" stroke="#4e7d50" stroke-width="2.7"/>
<circle cx="350.4" cy="1286.85" r="6.15" fill="#a9d5a8" stroke="#4e7d50" stroke-width="2.7"/>
<circle cx="388.65" cy="1287.57" r="6.15" fill="#a9d5a8" stroke="#4e7d50" stroke-width="2.7"/>
<circle cx="426.9" cy="1287.57" r="6.15" fill="#a9d5a8" stroke="#4e7d50" stroke-width="2.7"/>
<text transform="translate(120.9 1330.5) scale(0.975 1)" font-size="27" text-anchor="middle" >1</text>
<text transform="translate(197.4 1330.5) scale(0.975 1)" font-size="27" text-anchor="middle" >3</text>
<text transform="translate(273.9 1330.5) scale(0.975 1)" font-size="27" text-anchor="middle" >5</text>
<text transform="translate(350.4 1330.5) scale(0.975 1)" font-size="27" text-anchor="middle" >7</text>
<text transform="translate(426.9 1330.5) scale(0.975 1)" font-size="27" text-anchor="middle" >9</text>
<text transform="translate(90.5 1297.1) scale(0.975 1)" font-size="27" text-anchor="end" >0</text>
<text transform="translate(90.5 1212.22) scale(0.975 1)" font-size="27" text-anchor="end" >0.2</text>
<text transform="translate(90.5 1127.34) scale(0.975 1)" font-size="27" text-anchor="end" >0.4</text>
<defs><linearGradient id="cb3" x1="0" y1="0" x2="0" y2="1"><stop offset="0%" stop-color="#b40426"/><stop offset="6.25%" stop-color="#ca3b37"/><stop offset="12.5%" stop-color="#dd5f4b"/><stop offset="18.75%" stop-color="#eb7d62"/><stop offset="25%" stop-color="#f4987a"/><stop offset="31.25%" stop-color="#f7b093"/><stop offset="37.5%" stop-color="#f5c4ac"/><stop offset="43.75%" stop-color="#ecd3c5"/><stop offset="50%" stop-color="#dddcdc"/><stop offset="56.25%" stop-color="#ccd9ed"/><stop offset="62.5%" stop-color="#b9d0f9"/><stop offset="68.75%" stop-color="#a3c2fe"/><stop offset="75%" stop-color="#8db0fe"/><stop offset="81.25%" stop-color="#779af7"/><stop offset="87.5%" stop-color="#6282ea"/><stop offset="93.75%" stop-color="#4e68d8"/><stop offset="100%" stop-color="#3b4cc0"/></linearGradient></defs>
<rect x="452.4" y="1075.5" width="10.45" height="220.5" fill="url(#cb3)" stroke="#000" stroke-width="1.8"/>
<text transform="translate(477 1306.1) scale(0.965 1)" font-size="27" text-anchor="start" >0.2</text>
<line x1="462.85" y1="1192" x2="457.85" y2="1192" stroke="#000" stroke-width="1.9" />
<text transform="translate(477 1202.1) scale(0.965 1)" font-size="27" text-anchor="start" >0.4</text>
<line x1="462.85" y1="1088" x2="457.85" y2="1088" stroke="#000" stroke-width="1.9" />
<text transform="translate(477 1098.1) scale(0.965 1)" font-size="27" text-anchor="start" >0.6</text>
<text transform="translate(441.5 1058) scale(0.975 1)" font-size="27" text-anchor="start" ><tspan font-style="italic">k</tspan><tspan font-size="19.44" dy="3.78">B</tspan><tspan font-style="italic" dy="-3.78">T</tspan>/<tspan font-style="italic">t</tspan><tspan font-style="italic" font-size="19.44" dy="3.78">x</tspan></text>
<text transform="translate(26 1186.5) rotate(-90) scale(0.95 1)" font-size="23.5" text-anchor="middle" style="stroke-width:0.15px"><tspan class="i" font-family='"Liberation Serif", "DejaVu Serif", serif' font-size="25.5">δζ</tspan>(<tspan class="i" font-family='"Liberation Serif", "DejaVu Serif", serif' font-size="27">ℓ</tspan>)</text>
<text transform="translate(272 1369.5) scale(0.975 1)" font-size="27" text-anchor="middle" >Stripe length <tspan class="i" font-family='"Liberation Serif", "DejaVu Serif", serif' font-size="29" style="stroke:none">ℓ</tspan></text>
<text transform="translate(528 1046.3) scale(1.1 1)" font-size="34" text-anchor="start" class="b">g</text>
<defs><clipPath id="clipg"><rect x="641.4" y="1075.5" width="336.4" height="220.4"/></clipPath></defs>
<line x1="641.4" y1="1287.7" x2="977.8" y2="1287.7" stroke="#a8a8a8" stroke-width="2.4" />
<g clip-path="url(#clipg)">
<polyline points="656.5,1287.7 694.7,1249.5 732.9,990.62 771.1,884.52 809.3,905.74 847.5,969.4 885.7,1045.79 923.9,1113.7 962.1,1158.26" fill="none" stroke="#3b4cc0" stroke-width="4.2" stroke-linejoin="round" stroke-linecap="square"/>
<polyline points="656.5,1287.7 694.7,1250.35 732.9,1007.6 771.1,948.18 809.3,1033.06 847.5,1105.21 885.7,1169.29 923.9,1213.85 962.1,1243.99" fill="none" stroke="#6687ed" stroke-width="4.2" stroke-linejoin="round" stroke-linecap="square"/>
<polyline points="656.5,1287.7 694.7,1251.63 732.9,1024.57 771.1,1041.55 809.3,1136.61 847.5,1207.06 885.7,1247.38 923.9,1269.24 962.1,1279.21" fill="none" stroke="#b3cdfb" stroke-width="4.2" stroke-linejoin="round" stroke-linecap="square"/>
<polyline points="656.5,1287.7 694.7,1254.6 732.9,1079.74 771.1,1123.88 809.3,1199.85 847.5,1249.08 885.7,1270.72 923.9,1280.91 962.1,1285.15" fill="none" stroke="#e2dad5" stroke-width="4.4" stroke-linejoin="round" stroke-linecap="square"/>
<polyline points="656.5,1287.7 694.7,1261.39 732.9,1149.77 771.1,1202.82 809.3,1249.5 847.5,1274.12 885.7,1283.03 923.9,1286 962.1,1287.28" fill="none" stroke="#f6a586" stroke-width="4.7" stroke-linejoin="round" stroke-linecap="square"/>
<polyline points="656.5,1287.7 694.7,1268.6 732.9,1196.45 771.1,1236.77 809.3,1268.6 847.5,1280.91 885.7,1285.58 923.9,1286.85 962.1,1287.7" fill="none" stroke="#e36c55" stroke-width="5" stroke-linejoin="round" stroke-linecap="square"/>
<polyline points="656.5,1287.7 694.7,1276.24 732.9,1239.74 771.1,1265.21 809.3,1278.36 847.5,1284.3 885.7,1286.85 923.9,1287.7 962.1,1287.7" fill="none" stroke="#b40426" stroke-width="5" stroke-linejoin="round" stroke-linecap="square"/>
</g>
<line x1="656.5" y1="1295.9" x2="656.5" y2="1286.9" stroke="#000" stroke-width="1.9" />
<line x1="656.5" y1="1075.5" x2="656.5" y2="1084.5" stroke="#000" stroke-width="1.9" />
<line x1="732.9" y1="1295.9" x2="732.9" y2="1286.9" stroke="#000" stroke-width="1.9" />
<line x1="732.9" y1="1075.5" x2="732.9" y2="1084.5" stroke="#000" stroke-width="1.9" />
<line x1="809.3" y1="1295.9" x2="809.3" y2="1286.9" stroke="#000" stroke-width="1.9" />
<line x1="809.3" y1="1075.5" x2="809.3" y2="1084.5" stroke="#000" stroke-width="1.9" />
<line x1="885.7" y1="1295.9" x2="885.7" y2="1286.9" stroke="#000" stroke-width="1.9" />
<line x1="885.7" y1="1075.5" x2="885.7" y2="1084.5" stroke="#000" stroke-width="1.9" />
<line x1="962.1" y1="1295.9" x2="962.1" y2="1286.9" stroke="#000" stroke-width="1.9" />
<line x1="962.1" y1="1075.5" x2="962.1" y2="1084.5" stroke="#000" stroke-width="1.9" />
<line x1="694.7" y1="1295.9" x2="694.7" y2="1290.4" stroke="#000" stroke-width="1.9" />
<line x1="694.7" y1="1075.5" x2="694.7" y2="1081" stroke="#000" stroke-width="1.9" />
<line x1="771.1" y1="1295.9" x2="771.1" y2="1290.4" stroke="#000" stroke-width="1.9" />
<line x1="771.1" y1="1075.5" x2="771.1" y2="1081" stroke="#000" stroke-width="1.9" />
<line x1="847.5" y1="1295.9" x2="847.5" y2="1290.4" stroke="#000" stroke-width="1.9" />
<line x1="847.5" y1="1075.5" x2="847.5" y2="1081" stroke="#000" stroke-width="1.9" />
<line x1="923.9" y1="1295.9" x2="923.9" y2="1290.4" stroke="#000" stroke-width="1.9" />
<line x1="923.9" y1="1075.5" x2="923.9" y2="1081" stroke="#000" stroke-width="1.9" />
<line x1="641.4" y1="1287.7" x2="650.4" y2="1287.7" stroke="#000" stroke-width="1.9" />
<line x1="977.8" y1="1287.7" x2="968.8" y2="1287.7" stroke="#000" stroke-width="1.9" />
<line x1="641.4" y1="1202.82" x2="650.4" y2="1202.82" stroke="#000" stroke-width="1.9" />
<line x1="977.8" y1="1202.82" x2="968.8" y2="1202.82" stroke="#000" stroke-width="1.9" />
<line x1="641.4" y1="1117.94" x2="650.4" y2="1117.94" stroke="#000" stroke-width="1.9" />
<line x1="977.8" y1="1117.94" x2="968.8" y2="1117.94" stroke="#000" stroke-width="1.9" />
<line x1="641.4" y1="1245.26" x2="646.9" y2="1245.26" stroke="#000" stroke-width="1.9" />
<line x1="977.8" y1="1245.26" x2="972.3" y2="1245.26" stroke="#000" stroke-width="1.9" />
<line x1="641.4" y1="1160.38" x2="646.9" y2="1160.38" stroke="#000" stroke-width="1.9" />
<line x1="977.8" y1="1160.38" x2="972.3" y2="1160.38" stroke="#000" stroke-width="1.9" />
<rect x="641.4" y="1075.5" width="336.4" height="220.4" fill="none" stroke="#000" stroke-width="2.1"/>
<line x1="656.5" y1="1296.82" x2="656.5" y2="1278.58" stroke="#4e7d50" stroke-width="2.7" stroke-linecap="round"/>
<line x1="694.7" y1="1278.58" x2="694.7" y2="1244.62" stroke="#4e7d50" stroke-width="2.7" stroke-linecap="round"/>
<line x1="732.9" y1="1178.42" x2="732.9" y2="1146.16" stroke="#4e7d50" stroke-width="2.7" stroke-linecap="round"/>
<line x1="771.1" y1="1234.44" x2="771.1" y2="1214.07" stroke="#4e7d50" stroke-width="2.7" stroke-linecap="round"/>
<line x1="809.3" y1="1269.88" x2="809.3" y2="1257.14" stroke="#4e7d50" stroke-width="2.7" stroke-linecap="round"/>
<line x1="847.5" y1="1287.06" x2="847.5" y2="1278.58" stroke="#4e7d50" stroke-width="2.7" stroke-linecap="round"/>
<line x1="885.7" y1="1289.4" x2="885.7" y2="1284.3" stroke="#4e7d50" stroke-width="2.7" stroke-linecap="round"/>
<line x1="923.9" y1="1289.27" x2="923.9" y2="1285.88" stroke="#4e7d50" stroke-width="2.7" stroke-linecap="round"/>
<line x1="962.1" y1="1288.85" x2="962.1" y2="1286.3" stroke="#4e7d50" stroke-width="2.7" stroke-linecap="round"/>
<circle cx="656.5" cy="1287.7" r="6.15" fill="#a9d5a8" stroke="#4e7d50" stroke-width="2.7"/>
<circle cx="694.7" cy="1261.6" r="6.15" fill="#a9d5a8" stroke="#4e7d50" stroke-width="2.7"/>
<circle cx="732.9" cy="1162.29" r="6.15" fill="#a9d5a8" stroke="#4e7d50" stroke-width="2.7"/>
<circle cx="771.1" cy="1224.25" r="6.15" fill="#a9d5a8" stroke="#4e7d50" stroke-width="2.7"/>
<circle cx="809.3" cy="1263.51" r="6.15" fill="#a9d5a8" stroke="#4e7d50" stroke-width="2.7"/>
<circle cx="847.5" cy="1282.82" r="6.15" fill="#a9d5a8" stroke="#4e7d50" stroke-width="2.7"/>
<circle cx="885.7" cy="1286.85" r="6.15" fill="#a9d5a8" stroke="#4e7d50" stroke-width="2.7"/>
<circle cx="923.9" cy="1287.57" r="6.15" fill="#a9d5a8" stroke="#4e7d50" stroke-width="2.7"/>
<circle cx="962.1" cy="1287.57" r="6.15" fill="#a9d5a8" stroke="#4e7d50" stroke-width="2.7"/>
<text transform="translate(656.5 1330.5) scale(0.975 1)" font-size="27" text-anchor="middle" >1</text>
<text transform="translate(732.9 1330.5) scale(0.975 1)" font-size="27" text-anchor="middle" >3</text>
<text transform="translate(809.3 1330.5) scale(0.975 1)" font-size="27" text-anchor="middle" >5</text>
<text transform="translate(885.7 1330.5) scale(0.975 1)" font-size="27" text-anchor="middle" >7</text>
<text transform="translate(962.1 1330.5) scale(0.975 1)" font-size="27" text-anchor="middle" >9</text>
<text transform="translate(625.5 1297.1) scale(0.975 1)" font-size="27" text-anchor="end" >0</text>
<text transform="translate(625.5 1212.22) scale(0.975 1)" font-size="27" text-anchor="end" >0.2</text>
<text transform="translate(625.5 1127.34) scale(0.975 1)" font-size="27" text-anchor="end" >0.4</text>
<defs><linearGradient id="cb4" x1="0" y1="0" x2="0" y2="1"><stop offset="0%" stop-color="#b40426"/><stop offset="6.25%" stop-color="#ca3b37"/><stop offset="12.5%" stop-color="#dd5f4b"/><stop offset="18.75%" stop-color="#eb7d62"/><stop offset="25%" stop-color="#f4987a"/><stop offset="31.25%" stop-color="#f7b093"/><stop offset="37.5%" stop-color="#f5c4ac"/><stop offset="43.75%" stop-color="#ecd3c5"/><stop offset="50%" stop-color="#dddcdc"/><stop offset="56.25%" stop-color="#ccd9ed"/><stop offset="62.5%" stop-color="#b9d0f9"/><stop offset="68.75%" stop-color="#a3c2fe"/><stop offset="75%" stop-color="#8db0fe"/><stop offset="81.25%" stop-color="#779af7"/><stop offset="87.5%" stop-color="#6282ea"/><stop offset="93.75%" stop-color="#4e68d8"/><stop offset="100%" stop-color="#3b4cc0"/></linearGradient></defs>
<rect x="988" y="1075.5" width="10.2" height="220.4" fill="url(#cb4)" stroke="#000" stroke-width="1.8"/>
<text transform="translate(1013.4 1306.1) scale(0.965 1)" font-size="27" text-anchor="start" >0.4</text>
<line x1="998.2" y1="1222.5" x2="993.2" y2="1222.5" stroke="#000" stroke-width="1.9" />
<text transform="translate(1013.4 1232.6) scale(0.965 1)" font-size="27" text-anchor="start" >0.6</text>
<line x1="998.2" y1="1149" x2="993.2" y2="1149" stroke="#000" stroke-width="1.9" />
<text transform="translate(1013.4 1159.1) scale(0.965 1)" font-size="27" text-anchor="start" >0.8</text>
<text transform="translate(1013.4 1085.3) scale(0.965 1)" font-size="27" text-anchor="start" >1.0</text>
<text transform="translate(975 1057) scale(0.975 1)" font-size="27" text-anchor="start" ><tspan font-style="italic">k</tspan><tspan font-size="19.44" dy="3.78">B</tspan><tspan font-style="italic" dy="-3.78">T</tspan>/<tspan font-style="italic">J</tspan><tspan font-style="italic" font-size="19.44" dy="3.78">y</tspan></text>
<text transform="translate(561.5 1186.5) rotate(-90) scale(0.95 1)" font-size="23.5" text-anchor="middle" style="stroke-width:0.15px"><tspan class="i" font-family='"Liberation Serif", "DejaVu Serif", serif' font-size="25.5">δζ</tspan>(<tspan class="i" font-family='"Liberation Serif", "DejaVu Serif", serif' font-size="27">ℓ</tspan>)</text>
<text transform="translate(807 1369.5) scale(0.975 1)" font-size="27" text-anchor="middle" >Stripe length <tspan class="i" font-family='"Liberation Serif", "DejaVu Serif", serif' font-size="29" style="stroke:none">ℓ</tspan></text>
</svg></body></html>
